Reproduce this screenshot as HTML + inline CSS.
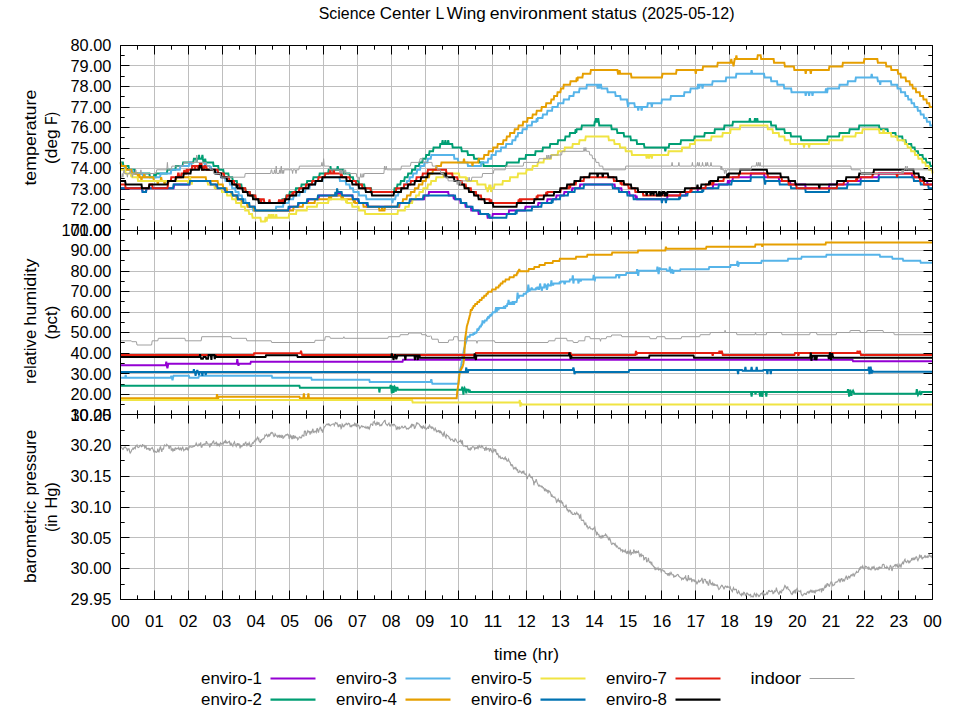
<!DOCTYPE html>
<html lang="en"><head><meta charset="utf-8"><title>Science Center L Wing environment status</title>
<style>html,body{margin:0;padding:0;background:#fff}svg{display:block}text{font-family:"Liberation Sans", "DejaVu Sans", sans-serif;font-size:16px;fill:#000}.g{stroke:#bebebe;stroke-width:1;fill:none}.k{stroke:#000;stroke-width:1;fill:none}.c{fill:none;stroke-linejoin:miter;stroke-miterlimit:3;stroke-linecap:butt}</style></head><body>
<svg width="960" height="720" viewBox="0 0 960 720">
<rect width="960" height="720" fill="#fff"/>
<path class="g" d="M120.5 65.5H932.5M120.5 86.5H932.5M120.5 107.5H932.5M120.5 127.5H932.5M120.5 148.5H932.5M120.5 168.5H932.5M120.5 189.5H932.5M120.5 209.5H932.5M154.5 45.5V230.5M188.5 45.5V230.5M222.5 45.5V230.5M255.5 45.5V230.5M289.5 45.5V230.5M323.5 45.5V230.5M357.5 45.5V230.5M391.5 45.5V230.5M425.5 45.5V230.5M458.5 45.5V230.5M492.5 45.5V230.5M526.5 45.5V230.5M560.5 45.5V230.5M594.5 45.5V230.5M628.5 45.5V230.5M661.5 45.5V230.5M695.5 45.5V230.5M729.5 45.5V230.5M763.5 45.5V230.5M797.5 45.5V230.5M831.5 45.5V230.5M864.5 45.5V230.5M898.5 45.5V230.5M120.5 250.5H932.5M120.5 271.5H932.5M120.5 291.5H932.5M120.5 312.5H932.5M120.5 332.5H932.5M120.5 353.5H932.5M120.5 373.5H932.5M120.5 394.5H932.5M154.5 230.5V414.5M188.5 230.5V414.5M222.5 230.5V414.5M255.5 230.5V414.5M289.5 230.5V414.5M323.5 230.5V414.5M357.5 230.5V414.5M391.5 230.5V414.5M425.5 230.5V414.5M458.5 230.5V414.5M492.5 230.5V414.5M526.5 230.5V414.5M560.5 230.5V414.5M594.5 230.5V414.5M628.5 230.5V414.5M661.5 230.5V414.5M695.5 230.5V414.5M729.5 230.5V414.5M763.5 230.5V414.5M797.5 230.5V414.5M831.5 230.5V414.5M864.5 230.5V414.5M898.5 230.5V414.5M120.5 445.5H932.5M120.5 476.5H932.5M120.5 507.5H932.5M120.5 537.5H932.5M120.5 568.5H932.5M154.5 414.5V599.5M188.5 414.5V599.5M222.5 414.5V599.5M255.5 414.5V599.5M289.5 414.5V599.5M323.5 414.5V599.5M357.5 414.5V599.5M391.5 414.5V599.5M425.5 414.5V599.5M458.5 414.5V599.5M492.5 414.5V599.5M526.5 414.5V599.5M560.5 414.5V599.5M594.5 414.5V599.5M628.5 414.5V599.5M661.5 414.5V599.5M695.5 414.5V599.5M729.5 414.5V599.5M763.5 414.5V599.5M797.5 414.5V599.5M831.5 414.5V599.5M864.5 414.5V599.5M898.5 414.5V599.5"/>
<path class="k" d="M120.5 45.5h9M932.5 45.5h-9M120.5 55.5h4.2M932.5 55.5h-4.2M120.5 65.5h9M932.5 65.5h-9M120.5 76.5h4.2M932.5 76.5h-4.2M120.5 86.5h9M932.5 86.5h-9M120.5 96.5h4.2M932.5 96.5h-4.2M120.5 107.5h9M932.5 107.5h-9M120.5 117.5h4.2M932.5 117.5h-4.2M120.5 127.5h9M932.5 127.5h-9M120.5 137.5h4.2M932.5 137.5h-4.2M120.5 148.5h9M932.5 148.5h-9M120.5 158.5h4.2M932.5 158.5h-4.2M120.5 168.5h9M932.5 168.5h-9M120.5 178.5h4.2M932.5 178.5h-4.2M120.5 189.5h9M932.5 189.5h-9M120.5 199.5h4.2M932.5 199.5h-4.2M120.5 209.5h9M932.5 209.5h-9M120.5 219.5h4.2M932.5 219.5h-4.2M120.5 230.5h9M932.5 230.5h-9M120.5 45.5v9.0M120.5 230.5v-9.0M137.5 45.5v4.2M137.5 230.5v-4.2M154.5 45.5v9.0M154.5 230.5v-9.0M171.5 45.5v4.2M171.5 230.5v-4.2M188.5 45.5v9.0M188.5 230.5v-9.0M205.5 45.5v4.2M205.5 230.5v-4.2M222.5 45.5v9.0M222.5 230.5v-9.0M239.5 45.5v4.2M239.5 230.5v-4.2M255.5 45.5v9.0M255.5 230.5v-9.0M272.5 45.5v4.2M272.5 230.5v-4.2M289.5 45.5v9.0M289.5 230.5v-9.0M306.5 45.5v4.2M306.5 230.5v-4.2M323.5 45.5v9.0M323.5 230.5v-9.0M340.5 45.5v4.2M340.5 230.5v-4.2M357.5 45.5v9.0M357.5 230.5v-9.0M374.5 45.5v4.2M374.5 230.5v-4.2M391.5 45.5v9.0M391.5 230.5v-9.0M408.5 45.5v4.2M408.5 230.5v-4.2M425.5 45.5v9.0M425.5 230.5v-9.0M442.5 45.5v4.2M442.5 230.5v-4.2M458.5 45.5v9.0M458.5 230.5v-9.0M475.5 45.5v4.2M475.5 230.5v-4.2M492.5 45.5v9.0M492.5 230.5v-9.0M509.5 45.5v4.2M509.5 230.5v-4.2M526.5 45.5v9.0M526.5 230.5v-9.0M543.5 45.5v4.2M543.5 230.5v-4.2M560.5 45.5v9.0M560.5 230.5v-9.0M577.5 45.5v4.2M577.5 230.5v-4.2M594.5 45.5v9.0M594.5 230.5v-9.0M611.5 45.5v4.2M611.5 230.5v-4.2M628.5 45.5v9.0M628.5 230.5v-9.0M645.5 45.5v4.2M645.5 230.5v-4.2M661.5 45.5v9.0M661.5 230.5v-9.0M678.5 45.5v4.2M678.5 230.5v-4.2M695.5 45.5v9.0M695.5 230.5v-9.0M712.5 45.5v4.2M712.5 230.5v-4.2M729.5 45.5v9.0M729.5 230.5v-9.0M746.5 45.5v4.2M746.5 230.5v-4.2M763.5 45.5v9.0M763.5 230.5v-9.0M780.5 45.5v4.2M780.5 230.5v-4.2M797.5 45.5v9.0M797.5 230.5v-9.0M814.5 45.5v4.2M814.5 230.5v-4.2M831.5 45.5v9.0M831.5 230.5v-9.0M848.5 45.5v4.2M848.5 230.5v-4.2M864.5 45.5v9.0M864.5 230.5v-9.0M881.5 45.5v4.2M881.5 230.5v-4.2M898.5 45.5v9.0M898.5 230.5v-9.0M915.5 45.5v4.2M915.5 230.5v-4.2M932.5 45.5v9.0M932.5 230.5v-9.0M120.5 230.5h9M932.5 230.5h-9M120.5 240.5h4.2M932.5 240.5h-4.2M120.5 250.5h9M932.5 250.5h-9M120.5 260.5h4.2M932.5 260.5h-4.2M120.5 271.5h9M932.5 271.5h-9M120.5 281.5h4.2M932.5 281.5h-4.2M120.5 291.5h9M932.5 291.5h-9M120.5 301.5h4.2M932.5 301.5h-4.2M120.5 312.5h9M932.5 312.5h-9M120.5 322.5h4.2M932.5 322.5h-4.2M120.5 332.5h9M932.5 332.5h-9M120.5 342.5h4.2M932.5 342.5h-4.2M120.5 353.5h9M932.5 353.5h-9M120.5 363.5h4.2M932.5 363.5h-4.2M120.5 373.5h9M932.5 373.5h-9M120.5 384.5h4.2M932.5 384.5h-4.2M120.5 394.5h9M932.5 394.5h-9M120.5 404.5h4.2M932.5 404.5h-4.2M120.5 414.5h9M932.5 414.5h-9M120.5 230.5v9.0M120.5 414.5v-9.0M137.5 230.5v4.2M137.5 414.5v-4.2M154.5 230.5v9.0M154.5 414.5v-9.0M171.5 230.5v4.2M171.5 414.5v-4.2M188.5 230.5v9.0M188.5 414.5v-9.0M205.5 230.5v4.2M205.5 414.5v-4.2M222.5 230.5v9.0M222.5 414.5v-9.0M239.5 230.5v4.2M239.5 414.5v-4.2M255.5 230.5v9.0M255.5 414.5v-9.0M272.5 230.5v4.2M272.5 414.5v-4.2M289.5 230.5v9.0M289.5 414.5v-9.0M306.5 230.5v4.2M306.5 414.5v-4.2M323.5 230.5v9.0M323.5 414.5v-9.0M340.5 230.5v4.2M340.5 414.5v-4.2M357.5 230.5v9.0M357.5 414.5v-9.0M374.5 230.5v4.2M374.5 414.5v-4.2M391.5 230.5v9.0M391.5 414.5v-9.0M408.5 230.5v4.2M408.5 414.5v-4.2M425.5 230.5v9.0M425.5 414.5v-9.0M442.5 230.5v4.2M442.5 414.5v-4.2M458.5 230.5v9.0M458.5 414.5v-9.0M475.5 230.5v4.2M475.5 414.5v-4.2M492.5 230.5v9.0M492.5 414.5v-9.0M509.5 230.5v4.2M509.5 414.5v-4.2M526.5 230.5v9.0M526.5 414.5v-9.0M543.5 230.5v4.2M543.5 414.5v-4.2M560.5 230.5v9.0M560.5 414.5v-9.0M577.5 230.5v4.2M577.5 414.5v-4.2M594.5 230.5v9.0M594.5 414.5v-9.0M611.5 230.5v4.2M611.5 414.5v-4.2M628.5 230.5v9.0M628.5 414.5v-9.0M645.5 230.5v4.2M645.5 414.5v-4.2M661.5 230.5v9.0M661.5 414.5v-9.0M678.5 230.5v4.2M678.5 414.5v-4.2M695.5 230.5v9.0M695.5 414.5v-9.0M712.5 230.5v4.2M712.5 414.5v-4.2M729.5 230.5v9.0M729.5 414.5v-9.0M746.5 230.5v4.2M746.5 414.5v-4.2M763.5 230.5v9.0M763.5 414.5v-9.0M780.5 230.5v4.2M780.5 414.5v-4.2M797.5 230.5v9.0M797.5 414.5v-9.0M814.5 230.5v4.2M814.5 414.5v-4.2M831.5 230.5v9.0M831.5 414.5v-9.0M848.5 230.5v4.2M848.5 414.5v-4.2M864.5 230.5v9.0M864.5 414.5v-9.0M881.5 230.5v4.2M881.5 414.5v-4.2M898.5 230.5v9.0M898.5 414.5v-9.0M915.5 230.5v4.2M915.5 414.5v-4.2M932.5 230.5v9.0M932.5 414.5v-9.0M120.5 414.5h9M932.5 414.5h-9M120.5 430.5h4.2M932.5 430.5h-4.2M120.5 445.5h9M932.5 445.5h-9M120.5 460.5h4.2M932.5 460.5h-4.2M120.5 476.5h9M932.5 476.5h-9M120.5 491.5h4.2M932.5 491.5h-4.2M120.5 507.5h9M932.5 507.5h-9M120.5 522.5h4.2M932.5 522.5h-4.2M120.5 537.5h9M932.5 537.5h-9M120.5 553.5h4.2M932.5 553.5h-4.2M120.5 568.5h9M932.5 568.5h-9M120.5 584.5h4.2M932.5 584.5h-4.2M120.5 599.5h9M932.5 599.5h-9M120.5 414.5v9.0M120.5 599.5v-9.0M137.5 414.5v4.2M137.5 599.5v-4.2M154.5 414.5v9.0M154.5 599.5v-9.0M171.5 414.5v4.2M171.5 599.5v-4.2M188.5 414.5v9.0M188.5 599.5v-9.0M205.5 414.5v4.2M205.5 599.5v-4.2M222.5 414.5v9.0M222.5 599.5v-9.0M239.5 414.5v4.2M239.5 599.5v-4.2M255.5 414.5v9.0M255.5 599.5v-9.0M272.5 414.5v4.2M272.5 599.5v-4.2M289.5 414.5v9.0M289.5 599.5v-9.0M306.5 414.5v4.2M306.5 599.5v-4.2M323.5 414.5v9.0M323.5 599.5v-9.0M340.5 414.5v4.2M340.5 599.5v-4.2M357.5 414.5v9.0M357.5 599.5v-9.0M374.5 414.5v4.2M374.5 599.5v-4.2M391.5 414.5v9.0M391.5 599.5v-9.0M408.5 414.5v4.2M408.5 599.5v-4.2M425.5 414.5v9.0M425.5 599.5v-9.0M442.5 414.5v4.2M442.5 599.5v-4.2M458.5 414.5v9.0M458.5 599.5v-9.0M475.5 414.5v4.2M475.5 599.5v-4.2M492.5 414.5v9.0M492.5 599.5v-9.0M509.5 414.5v4.2M509.5 599.5v-4.2M526.5 414.5v9.0M526.5 599.5v-9.0M543.5 414.5v4.2M543.5 599.5v-4.2M560.5 414.5v9.0M560.5 599.5v-9.0M577.5 414.5v4.2M577.5 599.5v-4.2M594.5 414.5v9.0M594.5 599.5v-9.0M611.5 414.5v4.2M611.5 599.5v-4.2M628.5 414.5v9.0M628.5 599.5v-9.0M645.5 414.5v4.2M645.5 599.5v-4.2M661.5 414.5v9.0M661.5 599.5v-9.0M678.5 414.5v4.2M678.5 599.5v-4.2M695.5 414.5v9.0M695.5 599.5v-9.0M712.5 414.5v4.2M712.5 599.5v-4.2M729.5 414.5v9.0M729.5 599.5v-9.0M746.5 414.5v4.2M746.5 599.5v-4.2M763.5 414.5v9.0M763.5 599.5v-9.0M780.5 414.5v4.2M780.5 599.5v-4.2M797.5 414.5v9.0M797.5 599.5v-9.0M814.5 414.5v4.2M814.5 599.5v-4.2M831.5 414.5v9.0M831.5 599.5v-9.0M848.5 414.5v4.2M848.5 599.5v-4.2M864.5 414.5v9.0M864.5 599.5v-9.0M881.5 414.5v4.2M881.5 599.5v-4.2M898.5 414.5v9.0M898.5 599.5v-9.0M915.5 414.5v4.2M915.5 599.5v-4.2M932.5 414.5v9.0M932.5 599.5v-9.0"/>
<g id="temperature">
<path class="c" d="M120.6 188.3L142.0 188.3L142.6 192.0L146.0 192.0L146.5 188.3L173.6 188.3L174.2 184.6L189.4 184.6L190.0 180.9L209.7 180.9L210.3 184.6L215.3 184.6L215.9 188.3L224.4 188.3L224.9 192.0L231.7 192.0L232.2 195.6L237.3 195.6L237.9 199.3L242.4 199.3L243.0 203.0L248.0 203.0L248.6 206.7L254.2 206.7L254.8 210.4L289.2 210.4L289.8 206.7L298.2 206.7L298.8 203.0L307.8 203.0L308.4 199.3L318.5 199.3L319.1 195.6L337.7 195.6L338.3 192.0L340.0 192.0L340.5 195.6L352.4 195.6L352.9 199.3L358.0 199.3L358.6 203.0L366.5 203.0L367.0 206.7L399.2 206.7L399.7 203.0L411.0 203.0L411.6 199.3L424.0 199.3L424.5 195.6L428.5 195.6L429.0 192.0L448.2 192.0L448.8 195.6L453.3 195.6L453.9 199.3L454.4 195.6L455.0 199.3L460.1 199.3L460.6 203.0L465.1 203.0L465.7 206.7L470.8 206.7L471.3 210.4L478.1 210.4L478.7 214.1L487.1 214.1L487.7 217.8L492.2 217.8L492.8 214.1L508.6 214.1L509.1 210.4L524.9 210.4L525.5 206.7L537.9 206.7L538.4 203.0L546.9 203.0L547.5 199.3L555.9 199.3L556.5 195.6L563.8 195.6L564.4 192.0L571.7 192.0L572.3 188.3L579.6 188.3L580.2 184.6L614.6 184.6L615.1 188.3L621.3 188.3L621.9 192.0L629.2 192.0L629.8 195.6L635.4 195.6L636.0 199.3L636.6 195.6L637.1 199.3L667.0 199.3L667.6 195.6L685.6 195.6L686.2 192.0L697.5 192.0L698.0 188.3L712.7 188.3L713.2 184.6L727.3 184.6L727.9 180.9L728.5 180.9L729.0 184.6L729.6 180.9L732.4 180.9L733.0 177.2L750.5 177.2L751.0 173.5L764.0 173.5L764.6 177.2L778.7 177.2L779.2 180.9L789.9 180.9L790.5 184.6L805.2 184.6L805.7 188.3L828.8 188.3L829.4 184.6L847.5 184.6L848.0 180.9L860.4 180.9L861.0 177.2L878.5 177.2L879.0 173.5L911.7 173.5L912.3 177.2L920.2 177.2L920.8 180.9L927.0 180.9L927.5 184.6L932.6 184.6" stroke="#9400d3" stroke-width="2"/>
<path class="c" d="M120.6 162.4L122.9 162.4L123.4 166.1L128.5 166.1L129.1 169.8L134.7 169.8L135.3 173.5L149.4 173.5L149.9 177.2L153.9 177.2L154.4 173.5L155.0 177.2L155.6 177.2L156.1 173.5L166.8 173.5L167.4 169.8L175.3 169.8L175.9 166.1L182.6 166.1L183.2 162.4L193.3 162.4L193.9 158.7L194.5 158.7L196.2 158.7L196.7 162.4L197.3 158.7L198.4 158.7L199.0 155.0L199.5 158.7L201.8 158.7L202.4 155.0L202.9 158.7L203.5 162.4L204.6 162.4L205.2 158.7L205.7 162.4L213.1 162.4L213.6 166.1L218.2 166.1L218.7 169.8L223.2 169.8L223.8 173.5L228.3 173.5L228.9 177.2L232.2 177.2L232.8 180.9L236.8 180.9L237.3 184.6L241.3 184.6L241.8 188.3L245.2 188.3L245.8 192.0L249.7 192.0L250.3 195.6L254.8 195.6L255.4 199.3L259.3 199.3L259.9 203.0L281.9 203.0L282.4 199.3L285.8 199.3L286.4 195.6L289.2 195.6L289.8 192.0L295.4 192.0L296.0 188.3L301.0 188.3L301.6 184.6L306.7 184.6L307.2 180.9L312.9 180.9L313.5 177.2L319.1 177.2L319.7 173.5L328.1 173.5L328.7 169.8L329.8 169.8L330.4 166.1L330.9 169.8L333.2 169.8L333.8 173.5L334.3 169.8L337.1 169.8L337.7 166.1L338.3 169.8L343.3 169.8L343.9 173.5L349.5 173.5L350.1 177.2L352.9 177.2L353.5 180.9L358.6 180.9L359.1 184.6L364.2 184.6L364.8 188.3L371.0 188.3L371.5 192.0L394.1 192.0L394.6 188.3L396.9 188.3L397.5 184.6L400.3 184.6L400.9 180.9L404.2 180.9L404.8 177.2L407.6 177.2L408.2 173.5L411.6 173.5L412.1 169.8L415.0 169.8L415.5 166.1L418.9 166.1L419.5 162.4L422.3 162.4L422.8 158.7L425.7 158.7L426.2 155.0L429.0 155.0L429.6 151.3L433.0 151.3L433.6 147.6L439.8 147.6L440.3 143.9L442.0 143.9L442.6 140.2L443.1 143.9L444.8 143.9L445.4 140.2L446.0 143.9L447.7 143.9L448.2 140.2L448.8 143.9L452.2 143.9L452.7 147.6L461.2 147.6L461.8 151.3L467.4 151.3L468.0 155.0L473.6 155.0L474.2 158.7L478.7 158.7L479.2 162.4L483.2 162.4L483.7 166.1L506.3 166.1L506.9 162.4L518.7 162.4L519.3 158.7L525.5 158.7L526.0 155.0L535.1 155.0L535.6 151.3L542.4 151.3L543.0 147.6L549.7 147.6L550.3 143.9L557.6 143.9L558.2 140.2L564.9 140.2L565.5 136.6L569.5 136.6L570.0 132.9L575.1 132.9L575.7 129.2L576.2 132.9L576.8 129.2L581.3 129.2L581.9 125.5L594.3 125.5L594.8 121.8L595.4 121.8L596.0 118.1L596.5 121.8L597.6 121.8L598.2 118.1L598.8 121.8L599.3 125.5L611.2 125.5L611.7 129.2L616.8 129.2L617.4 132.9L623.6 132.9L624.2 136.6L630.4 136.6L630.9 140.2L636.6 140.2L637.1 143.9L643.9 143.9L644.5 147.6L664.8 147.6L665.3 151.3L665.9 147.6L668.7 147.6L669.3 143.9L680.5 143.9L681.1 140.2L694.1 140.2L694.6 136.6L704.2 136.6L704.8 132.9L714.4 132.9L714.9 129.2L724.0 129.2L724.5 125.5L732.4 125.5L733.0 121.8L749.3 121.8L749.9 118.1L750.5 121.8L754.4 121.8L755.0 118.1L755.5 121.8L756.7 121.8L757.2 118.1L757.8 121.8L770.8 121.8L771.3 125.5L775.8 125.5L776.4 129.2L784.3 129.2L784.9 132.9L790.5 132.9L791.1 136.6L800.7 136.6L801.2 140.2L827.2 140.2L827.7 136.6L839.0 136.6L839.6 132.9L849.1 132.9L849.7 129.2L858.7 129.2L859.3 125.5L879.0 125.5L879.6 129.2L887.5 129.2L888.1 132.9L895.4 132.9L895.9 136.6L902.2 136.6L902.7 140.2L905.5 140.2L906.1 143.9L911.2 143.9L911.7 147.6L914.6 147.6L915.1 151.3L917.9 151.3L918.5 155.0L922.5 155.0L923.0 158.7L925.8 158.7L926.4 162.4L929.8 162.4L930.3 166.1L932.6 166.1" stroke="#009e73" stroke-width="2"/>
<path class="c" d="M120.6 162.4L121.2 166.1L124.5 166.1L125.1 169.8L131.9 169.8L132.4 173.5L133.0 169.8L133.6 173.5L142.6 173.5L143.2 177.2L143.7 177.2L144.3 173.5L144.8 177.2L160.1 177.2L160.6 173.5L170.8 173.5L171.3 169.8L179.8 169.8L180.4 166.1L188.8 166.1L189.4 162.4L191.1 162.4L191.7 166.1L204.6 166.1L205.2 162.4L205.7 166.1L209.7 166.1L210.3 169.8L210.8 166.1L211.4 169.8L215.9 169.8L216.5 173.5L220.4 173.5L221.0 177.2L224.9 177.2L225.5 180.9L229.4 180.9L230.0 184.6L231.7 184.6L232.2 188.3L235.1 188.3L235.6 192.0L238.5 192.0L239.0 195.6L241.8 195.6L242.4 199.3L245.2 199.3L245.8 203.0L248.6 203.0L249.2 206.7L252.6 206.7L253.1 210.4L275.7 210.4L276.2 206.7L283.0 206.7L283.6 203.0L288.6 203.0L289.2 199.3L293.1 199.3L293.7 195.6L299.4 195.6L299.9 192.0L305.0 192.0L305.6 188.3L309.5 188.3L310.1 184.6L315.1 184.6L315.7 180.9L322.5 180.9L323.0 177.2L339.4 177.2L340.0 180.9L345.6 180.9L346.2 184.6L349.5 184.6L350.1 188.3L352.9 188.3L353.5 192.0L358.6 192.0L359.1 195.6L365.9 195.6L366.5 199.3L391.8 199.3L392.4 203.0L393.0 199.3L395.2 199.3L395.8 195.6L398.0 195.6L398.6 192.0L400.9 192.0L401.4 188.3L403.7 188.3L404.2 184.6L406.5 184.6L407.1 180.9L409.3 180.9L409.9 177.2L412.7 177.2L413.3 173.5L416.6 173.5L417.2 169.8L420.0 169.8L420.6 166.1L424.0 166.1L424.5 162.4L427.4 162.4L427.9 158.7L430.7 158.7L431.3 155.0L453.9 155.0L454.4 158.7L457.8 158.7L458.4 162.4L467.4 162.4L468.0 166.1L480.9 166.1L481.5 162.4L487.7 162.4L488.3 158.7L491.1 158.7L491.6 155.0L495.6 155.0L496.1 151.3L500.7 151.3L501.2 147.6L505.7 147.6L506.3 143.9L511.9 143.9L512.5 140.2L515.3 140.2L515.9 136.6L517.6 136.6L518.1 132.9L522.1 132.9L522.7 129.2L526.6 129.2L527.2 125.5L531.7 125.5L532.2 121.8L536.2 121.8L536.8 118.1L537.3 121.8L537.9 118.1L542.4 118.1L543.0 114.4L546.9 114.4L547.5 110.7L552.0 110.7L552.5 107.0L557.6 107.0L558.2 103.3L563.3 103.3L563.8 99.6L568.9 99.6L569.5 95.9L573.4 95.9L574.0 92.2L579.0 92.2L579.6 88.5L586.4 88.5L586.9 84.8L597.1 84.8L597.6 88.5L598.2 84.8L598.8 84.8L599.3 88.5L599.9 84.8L601.0 84.8L601.6 88.5L607.2 88.5L607.8 92.2L615.1 92.2L615.7 95.9L620.2 95.9L620.8 99.6L627.0 99.6L627.5 103.3L628.1 107.0L628.7 103.3L634.3 103.3L634.9 107.0L637.7 107.0L638.2 110.7L638.8 107.0L641.1 107.0L641.6 110.7L642.2 107.0L647.3 107.0L647.8 103.3L651.2 103.3L651.8 107.0L652.3 103.3L661.4 103.3L661.9 99.6L670.4 99.6L671.0 95.9L683.9 95.9L684.5 92.2L690.1 92.2L690.7 88.5L697.5 88.5L698.0 84.8L698.6 84.8L699.2 88.5L699.7 84.8L702.0 84.8L702.5 88.5L703.1 84.8L712.1 84.8L712.7 81.2L725.7 81.2L726.2 77.5L735.8 77.5L736.4 73.8L751.0 73.8L751.6 70.1L752.2 73.8L764.0 73.8L764.6 77.5L770.8 77.5L771.3 81.2L777.0 81.2L777.5 84.8L783.7 84.8L784.3 88.5L791.1 88.5L791.6 92.2L805.2 92.2L805.7 95.9L806.3 92.2L808.5 92.2L809.1 95.9L809.7 92.2L811.9 92.2L812.5 95.9L813.1 92.2L825.5 92.2L826.0 88.5L826.6 92.2L827.2 92.2L827.7 88.5L839.0 88.5L839.6 84.8L847.5 84.8L848.0 81.2L855.3 81.2L855.9 77.5L871.1 77.5L871.7 73.8L872.3 77.5L877.3 77.5L877.9 81.2L879.6 81.2L880.2 84.8L880.7 81.2L890.9 81.2L891.4 84.8L897.1 84.8L897.6 88.5L900.5 88.5L901.0 92.2L905.0 92.2L905.5 95.9L907.8 95.9L908.4 99.6L911.2 99.6L911.7 103.3L914.0 103.3L914.6 107.0L917.4 107.0L917.9 110.7L920.2 110.7L920.8 114.4L923.6 114.4L924.1 118.1L926.4 118.1L927.0 121.8L929.8 121.8L930.3 125.5L932.6 125.5" stroke="#56b4e9" stroke-width="2"/>
<path class="c" d="M120.6 162.4L121.2 166.1L125.7 166.1L126.2 169.8L131.3 169.8L131.9 173.5L137.5 173.5L138.1 177.2L138.6 177.2L139.2 173.5L139.8 177.2L140.9 177.2L141.5 180.9L142.0 177.2L143.7 177.2L144.3 173.5L144.8 177.2L153.3 177.2L153.9 180.9L157.3 180.9L157.8 184.6L158.4 180.9L160.6 180.9L161.2 177.2L161.8 180.9L164.0 180.9L164.6 184.6L165.1 180.9L175.9 180.9L176.4 177.2L205.7 177.2L206.3 180.9L217.6 180.9L218.2 184.6L222.7 184.6L223.2 188.3L226.6 188.3L227.2 192.0L231.1 192.0L231.7 195.6L236.2 195.6L236.8 199.3L241.3 199.3L241.8 203.0L246.9 203.0L247.5 206.7L253.7 206.7L254.2 210.4L293.1 210.4L293.7 206.7L302.7 206.7L303.3 203.0L314.6 203.0L315.1 199.3L328.7 199.3L329.2 195.6L329.8 199.3L330.9 199.3L331.5 195.6L341.1 195.6L341.6 199.3L342.2 199.3L342.8 195.6L343.3 199.3L353.5 199.3L354.0 203.0L354.6 199.3L355.2 203.0L363.1 203.0L363.6 206.7L378.9 206.7L379.4 210.4L381.7 210.4L382.2 206.7L382.8 210.4L384.5 210.4L385.1 206.7L398.6 206.7L399.2 203.0L402.5 203.0L403.1 199.3L406.5 199.3L407.1 195.6L410.4 195.6L411.0 192.0L414.4 192.0L415.0 188.3L418.3 188.3L418.9 184.6L422.3 184.6L422.8 180.9L425.7 180.9L426.2 177.2L429.0 177.2L429.6 173.5L432.4 173.5L433.0 169.8L435.8 169.8L436.4 166.1L440.9 166.1L441.5 162.4L463.4 162.4L464.0 158.7L464.6 162.4L471.9 162.4L472.5 166.1L473.0 162.4L478.1 162.4L478.7 158.7L483.7 158.7L484.3 155.0L488.3 155.0L488.8 151.3L492.8 151.3L493.3 147.6L497.3 147.6L497.8 143.9L502.9 143.9L503.5 140.2L506.3 140.2L506.9 136.6L509.7 136.6L510.2 132.9L514.2 132.9L514.8 129.2L518.1 129.2L518.7 125.5L522.7 125.5L523.2 121.8L527.2 121.8L527.7 118.1L532.2 118.1L532.8 114.4L536.2 114.4L536.8 110.7L541.3 110.7L541.8 107.0L545.8 107.0L546.3 103.3L550.8 103.3L551.4 99.6L553.7 99.6L554.2 95.9L557.1 95.9L557.6 92.2L560.4 92.2L561.0 88.5L563.3 88.5L563.8 84.8L570.0 84.8L570.6 81.2L576.2 81.2L576.8 77.5L577.4 81.2L577.9 77.5L582.4 77.5L583.0 73.8L590.3 73.8L590.9 70.1L617.4 70.1L618.0 73.8L619.1 73.8L619.6 70.1L620.2 73.8L630.9 73.8L631.5 77.5L661.9 77.5L662.5 73.8L676.0 73.8L676.6 70.1L695.2 70.1L695.8 73.8L696.3 70.1L702.5 70.1L703.1 66.4L717.2 66.4L717.8 62.7L730.7 62.7L731.3 59.0L731.9 62.7L733.0 62.7L733.5 66.4L734.1 62.7L734.7 59.0L735.8 59.0L736.4 55.3L736.9 59.0L757.2 59.0L757.8 55.3L760.6 55.3L761.2 59.0L773.6 59.0L774.1 62.7L784.3 62.7L784.9 66.4L793.9 66.4L794.4 70.1L805.2 70.1L805.7 73.8L806.3 70.1L810.2 70.1L810.8 73.8L811.4 70.1L828.8 70.1L829.4 66.4L842.4 66.4L842.9 62.7L863.8 62.7L864.4 59.0L877.3 59.0L877.9 62.7L885.8 62.7L886.4 66.4L890.9 66.4L891.4 70.1L897.6 70.1L898.2 73.8L900.5 73.8L901.0 77.5L905.5 77.5L906.1 81.2L909.5 81.2L910.0 84.8L912.3 84.8L912.9 88.5L915.7 88.5L916.2 92.2L919.6 92.2L920.2 95.9L923.0 95.9L923.6 99.6L926.4 99.6L927.0 103.3L929.2 103.3L929.8 107.0L932.6 107.0" stroke="#e69f00" stroke-width="2"/>
<path class="c" d="M120.6 169.8L125.1 169.8L125.7 173.5L130.8 173.5L131.3 177.2L131.9 173.5L132.4 177.2L137.5 177.2L138.1 180.9L187.7 180.9L188.3 184.6L188.8 180.9L189.4 180.9L190.0 177.2L190.5 180.9L191.1 180.9L191.7 184.6L192.2 180.9L207.4 180.9L208.0 184.6L214.2 184.6L214.8 188.3L221.5 188.3L222.1 192.0L226.6 192.0L227.2 195.6L231.7 195.6L232.2 199.3L235.6 199.3L236.2 203.0L240.7 203.0L241.3 206.7L244.7 206.7L245.2 210.4L248.6 210.4L249.2 214.1L252.0 214.1L252.6 217.8L260.4 217.8L261.0 221.5L265.0 221.5L265.5 217.8L266.1 217.8L266.6 221.5L267.2 217.8L268.3 217.8L268.9 214.1L269.5 217.8L270.6 217.8L271.2 214.1L271.7 217.8L272.9 217.8L273.4 214.1L274.0 217.8L275.7 217.8L276.2 214.1L276.8 217.8L288.6 217.8L289.2 214.1L296.0 214.1L296.5 210.4L306.7 210.4L307.2 206.7L316.8 206.7L317.4 203.0L328.1 203.0L328.7 199.3L345.6 199.3L346.2 203.0L346.7 199.3L347.3 203.0L351.8 203.0L352.4 206.7L358.6 206.7L359.1 210.4L364.8 210.4L365.3 214.1L397.5 214.1L398.0 210.4L404.8 210.4L405.4 206.7L408.7 206.7L409.3 203.0L412.1 203.0L412.7 199.3L415.5 199.3L416.1 195.6L418.9 195.6L419.5 192.0L422.8 192.0L423.4 188.3L427.4 188.3L427.9 184.6L430.7 184.6L431.3 180.9L435.8 180.9L436.4 177.2L443.1 177.2L443.7 173.5L458.9 173.5L459.5 177.2L465.7 177.2L466.3 180.9L466.8 177.2L467.4 180.9L477.0 180.9L477.5 184.6L485.4 184.6L486.0 188.3L487.1 188.3L487.7 192.0L488.3 188.3L488.8 188.3L489.4 184.6L489.9 188.3L490.5 184.6L491.1 192.0L491.6 188.3L493.9 188.3L494.5 184.6L502.4 184.6L502.9 180.9L509.7 180.9L510.2 177.2L517.6 177.2L518.1 173.5L526.0 173.5L526.6 169.8L532.2 169.8L532.8 166.1L537.3 166.1L537.9 162.4L543.5 162.4L544.1 158.7L550.8 158.7L551.4 155.0L557.6 155.0L558.2 151.3L564.4 151.3L564.9 147.6L572.3 147.6L572.8 143.9L579.0 143.9L579.6 140.2L585.2 140.2L585.8 136.6L608.4 136.6L608.9 140.2L614.0 140.2L614.6 143.9L619.6 143.9L620.2 147.6L625.3 147.6L625.8 151.3L631.5 151.3L632.0 155.0L646.1 155.0L646.7 158.7L647.3 155.0L648.4 155.0L649.0 158.7L649.5 155.0L651.2 155.0L651.8 158.7L652.3 155.0L668.1 155.0L668.7 151.3L681.7 151.3L682.2 147.6L689.6 147.6L690.1 143.9L694.6 143.9L695.2 140.2L711.0 140.2L711.6 136.6L722.3 136.6L722.8 132.9L730.2 132.9L730.7 129.2L739.8 129.2L740.3 125.5L767.4 125.5L767.9 129.2L772.5 129.2L773.0 132.9L778.7 132.9L779.2 136.6L784.3 136.6L784.9 140.2L789.9 140.2L790.5 143.9L803.5 143.9L804.0 147.6L804.6 143.9L808.5 143.9L809.1 147.6L809.7 143.9L828.8 143.9L829.4 140.2L842.4 140.2L842.9 136.6L855.3 136.6L855.9 132.9L862.1 132.9L862.7 129.2L879.0 129.2L879.6 132.9L883.0 132.9L883.5 129.2L884.1 132.9L890.9 132.9L891.4 136.6L897.1 136.6L897.6 140.2L904.4 140.2L905.0 143.9L907.2 143.9L907.8 147.6L910.6 147.6L911.2 151.3L914.6 151.3L915.1 155.0L917.9 155.0L918.5 158.7L921.9 158.7L922.5 162.4L925.3 162.4L925.8 166.1L928.7 166.1L929.2 169.8L932.0 169.8L932.6 173.5L932.6 173.5" stroke="#f0e442" stroke-width="2"/>
<path class="c" d="M120.6 188.3L142.0 188.3L142.6 192.0L146.0 192.0L146.5 188.3L173.0 188.3L173.6 184.6L189.4 184.6L190.0 180.9L210.3 180.9L210.8 184.6L217.0 184.6L217.6 188.3L224.9 188.3L225.5 192.0L232.2 192.0L232.8 195.6L237.3 195.6L237.9 199.3L243.0 199.3L243.5 203.0L249.2 203.0L249.7 206.7L254.8 206.7L255.4 210.4L288.1 210.4L288.6 206.7L297.7 206.7L298.2 203.0L306.7 203.0L307.2 199.3L317.4 199.3L318.0 195.6L334.9 195.6L335.4 192.0L336.0 195.6L336.6 195.6L337.1 188.3L337.7 192.0L341.6 192.0L342.2 195.6L352.4 195.6L352.9 199.3L358.6 199.3L359.1 203.0L367.6 203.0L368.1 206.7L397.5 206.7L398.0 203.0L409.3 203.0L409.9 199.3L422.8 199.3L423.4 195.6L455.0 195.6L455.6 199.3L460.6 199.3L461.2 203.0L466.3 203.0L466.8 206.7L472.5 206.7L473.0 210.4L479.8 210.4L480.4 214.1L488.3 214.1L488.8 217.8L489.4 214.1L489.9 217.8L506.3 217.8L506.9 214.1L515.3 214.1L515.9 210.4L516.5 214.1L517.0 210.4L531.7 210.4L532.2 206.7L541.3 206.7L541.8 203.0L551.4 203.0L552.0 199.3L552.5 203.0L553.1 199.3L559.9 199.3L560.4 195.6L567.8 195.6L568.3 192.0L574.5 192.0L575.1 188.3L583.6 188.3L584.1 184.6L612.3 184.6L612.9 188.3L618.5 188.3L619.1 192.0L627.0 192.0L627.5 195.6L633.2 195.6L633.7 199.3L661.4 199.3L661.9 203.0L662.5 199.3L665.3 199.3L665.9 203.0L666.4 199.3L678.9 199.3L679.4 195.6L680.0 199.3L680.5 195.6L687.3 195.6L687.9 192.0L702.0 192.0L702.5 188.3L703.1 192.0L703.7 188.3L718.3 188.3L718.9 184.6L731.3 184.6L731.9 180.9L750.5 180.9L751.0 177.2L764.0 177.2L764.6 180.9L765.1 184.6L765.7 180.9L779.2 180.9L779.8 184.6L790.5 184.6L791.1 188.3L805.2 188.3L805.7 192.0L828.8 192.0L829.4 188.3L846.9 188.3L847.5 184.6L860.4 184.6L861.0 180.9L878.5 180.9L879.0 177.2L913.4 177.2L914.0 180.9L920.2 180.9L920.8 184.6L928.1 184.6L928.7 188.3L932.6 188.3" stroke="#0072b2" stroke-width="2"/>
<path class="c" d="M120.6 184.6L125.1 184.6L125.7 188.3L148.8 188.3L149.4 184.6L152.2 184.6L152.7 188.3L167.4 188.3L168.0 184.6L168.5 180.9L170.8 180.9L171.3 177.2L177.6 177.2L178.1 173.5L178.7 173.5L179.2 177.2L180.9 177.2L181.5 173.5L183.8 173.5L184.3 169.8L184.9 173.5L186.0 173.5L186.6 169.8L187.1 169.8L187.7 173.5L188.3 169.8L191.7 169.8L192.2 166.1L194.5 166.1L195.0 169.8L195.6 166.1L197.9 166.1L198.4 169.8L199.0 166.1L199.5 166.1L200.1 162.4L200.7 166.1L201.2 162.4L201.8 166.1L202.4 169.8L202.9 169.8L203.5 166.1L204.1 169.8L204.6 166.1L206.3 166.1L206.9 169.8L217.6 169.8L218.2 173.5L223.8 173.5L224.4 177.2L228.9 177.2L229.4 180.9L233.9 180.9L234.5 184.6L239.6 184.6L240.1 188.3L245.2 188.3L245.8 192.0L249.7 192.0L250.3 195.6L255.4 195.6L255.9 199.3L260.4 199.3L261.0 203.0L261.6 199.3L263.8 199.3L264.4 203.0L268.9 203.0L269.5 199.3L270.0 203.0L278.5 203.0L279.1 199.3L279.6 203.0L280.7 203.0L281.3 199.3L281.9 203.0L282.4 203.0L283.0 199.3L283.6 203.0L284.1 199.3L286.4 199.3L286.9 195.6L292.0 195.6L292.6 192.0L293.1 195.6L293.7 192.0L298.8 192.0L299.4 188.3L305.6 188.3L306.1 184.6L311.8 184.6L312.3 180.9L318.0 180.9L318.5 177.2L324.7 177.2L325.3 173.5L329.8 173.5L330.4 169.8L330.9 173.5L333.2 173.5L333.8 169.8L334.3 173.5L340.5 173.5L341.1 177.2L341.6 173.5L342.2 177.2L349.5 177.2L350.1 180.9L355.7 180.9L356.3 184.6L361.9 184.6L362.5 188.3L370.4 188.3L371.0 192.0L395.8 192.0L396.3 188.3L403.7 188.3L404.2 184.6L410.4 184.6L411.0 180.9L416.1 180.9L416.6 177.2L422.3 177.2L422.8 173.5L427.4 173.5L427.9 169.8L446.0 169.8L446.5 173.5L452.2 173.5L452.7 177.2L457.2 177.2L457.8 180.9L461.8 180.9L462.3 184.6L465.7 184.6L466.3 188.3L470.8 188.3L471.3 192.0L475.9 192.0L476.4 195.6L480.9 195.6L481.5 199.3L489.4 199.3L489.9 203.0L490.5 203.0L491.1 199.3L491.6 203.0L518.1 203.0L518.7 199.3L519.3 203.0L519.8 199.3L520.4 199.3L521.0 203.0L521.5 199.3L536.2 199.3L536.8 195.6L537.3 199.3L537.9 195.6L545.8 195.6L546.3 192.0L546.9 195.6L547.5 192.0L560.4 192.0L561.0 188.3L568.9 188.3L569.5 184.6L570.0 188.3L570.6 184.6L575.7 184.6L576.2 180.9L583.6 180.9L584.1 177.2L613.4 177.2L614.0 180.9L620.2 180.9L620.8 184.6L621.3 180.9L621.9 184.6L628.1 184.6L628.7 188.3L634.9 188.3L635.4 192.0L642.8 192.0L643.3 195.6L680.0 195.6L680.5 192.0L690.1 192.0L690.7 188.3L691.3 192.0L691.8 188.3L705.4 188.3L705.9 184.6L712.1 184.6L712.7 180.9L713.2 184.6L713.8 180.9L723.4 180.9L724.0 177.2L738.6 177.2L739.2 173.5L767.4 173.5L767.9 177.2L781.5 177.2L782.0 180.9L788.2 180.9L788.8 184.6L796.1 184.6L796.7 188.3L836.7 188.3L837.3 184.6L843.5 184.6L844.1 180.9L855.9 180.9L856.5 177.2L857.0 180.9L857.6 177.2L872.3 177.2L872.8 173.5L896.5 173.5L897.1 177.2L897.6 173.5L914.0 173.5L914.6 177.2L919.6 177.2L920.2 180.9L923.6 180.9L924.1 184.6L932.6 184.6" stroke="#e51e10" stroke-width="2"/>
<path class="c" d="M120.6 180.9L125.1 180.9L125.7 184.6L141.5 184.6L142.0 188.3L148.8 188.3L149.4 184.6L167.4 184.6L168.0 180.9L175.3 180.9L175.9 177.2L183.2 177.2L183.8 173.5L190.5 173.5L191.1 169.8L199.0 169.8L199.5 166.1L201.2 166.1L201.8 169.8L214.8 169.8L215.3 173.5L221.0 173.5L221.5 177.2L226.6 177.2L227.2 180.9L231.7 180.9L232.2 184.6L236.2 184.6L236.8 188.3L237.3 184.6L237.9 188.3L242.4 188.3L243.0 192.0L247.5 192.0L248.0 195.6L252.6 195.6L253.1 199.3L258.2 199.3L258.8 203.0L284.7 203.0L285.3 199.3L289.2 199.3L289.8 195.6L296.0 195.6L296.5 192.0L302.7 192.0L303.3 188.3L308.4 188.3L308.9 184.6L315.1 184.6L315.7 180.9L321.9 180.9L322.5 177.2L346.2 177.2L346.7 180.9L351.8 180.9L352.4 184.6L358.6 184.6L359.1 188.3L365.3 188.3L365.9 192.0L371.5 192.0L372.1 195.6L393.5 195.6L394.1 192.0L400.9 192.0L401.4 188.3L407.6 188.3L408.2 184.6L414.4 184.6L415.0 180.9L420.6 180.9L421.2 177.2L427.4 177.2L427.9 173.5L444.3 173.5L444.8 177.2L445.4 173.5L446.0 173.5L446.5 177.2L453.9 177.2L454.4 180.9L458.9 180.9L459.5 184.6L464.0 184.6L464.6 188.3L468.5 188.3L469.1 192.0L473.6 192.0L474.2 195.6L478.1 195.6L478.7 199.3L484.3 199.3L484.9 203.0L492.8 203.0L493.3 206.7L516.5 206.7L517.0 203.0L533.9 203.0L534.5 199.3L543.5 199.3L544.1 195.6L553.7 195.6L554.2 192.0L559.9 192.0L560.4 188.3L566.6 188.3L567.2 184.6L574.0 184.6L574.5 180.9L580.2 180.9L580.7 177.2L589.2 177.2L589.8 173.5L597.1 173.5L597.6 177.2L598.2 173.5L602.2 173.5L602.7 177.2L603.3 173.5L607.8 173.5L608.4 177.2L616.3 177.2L616.8 180.9L623.6 180.9L624.2 184.6L630.9 184.6L631.5 188.3L637.7 188.3L638.2 192.0L646.1 192.0L646.7 195.6L647.3 192.0L650.1 192.0L650.7 195.6L651.2 192.0L652.9 192.0L653.5 195.6L654.0 192.0L656.3 192.0L656.9 195.6L657.4 195.6L658.6 195.6L659.1 192.0L659.7 192.0L660.2 195.6L660.8 195.6L661.4 192.0L661.9 195.6L662.5 192.0L664.2 192.0L664.8 195.6L665.3 195.6L665.9 192.0L666.4 195.6L667.0 195.6L667.6 192.0L684.5 192.0L685.1 188.3L696.9 188.3L697.5 184.6L698.0 188.3L700.8 188.3L701.4 184.6L708.7 184.6L709.3 180.9L709.9 184.6L710.4 180.9L717.8 180.9L718.3 177.2L726.8 177.2L727.3 173.5L727.9 177.2L728.5 177.2L729.0 173.5L739.8 173.5L740.3 169.8L766.8 169.8L767.4 173.5L780.4 173.5L780.9 177.2L788.2 177.2L788.8 180.9L795.0 180.9L795.6 184.6L818.7 184.6L819.3 188.3L819.8 184.6L836.7 184.6L837.3 180.9L845.8 180.9L846.3 177.2L858.7 177.2L859.3 173.5L873.4 173.5L874.0 169.8L913.4 169.8L914.0 173.5L918.5 173.5L919.1 177.2L923.0 177.2L923.6 180.9L924.1 177.2L924.7 180.9L932.6 180.9" stroke="#000000" stroke-width="2"/>
<path class="c" d="M120.6 177.2L121.7 177.2L122.3 173.5L122.9 177.2L123.4 173.5L124.0 169.8L124.5 173.5L126.8 173.5L127.4 177.2L127.9 173.5L129.6 173.5L130.2 169.8L130.8 173.5L131.9 173.5L132.4 177.2L133.0 173.5L135.3 173.5L135.8 169.8L136.4 173.5L140.3 173.5L140.9 169.8L141.5 173.5L156.1 173.5L156.7 169.8L166.8 169.8L167.4 162.4L168.0 169.8L171.3 169.8L171.9 166.1L183.2 166.1L183.8 162.4L196.2 162.4L196.7 155.0L197.3 162.4L206.3 162.4L206.9 166.1L209.7 166.1L210.3 169.8L213.1 169.8L213.6 173.5L220.4 173.5L221.0 177.2L244.7 177.2L245.2 173.5L270.6 173.5L271.2 169.8L271.7 169.8L272.3 173.5L274.0 173.5L274.5 169.8L275.1 173.5L275.7 173.5L276.2 166.1L276.8 173.5L279.1 173.5L279.6 169.8L280.2 173.5L280.7 169.8L281.3 166.1L281.9 173.5L282.4 173.5L283.0 169.8L283.6 173.5L284.1 169.8L292.0 169.8L292.6 173.5L293.1 169.8L295.4 169.8L296.0 173.5L296.5 169.8L298.8 169.8L299.4 166.1L321.3 166.1L321.9 162.4L322.5 166.1L323.0 166.1L323.6 158.7L324.2 166.1L329.2 166.1L329.8 169.8L339.4 169.8L340.0 173.5L340.5 169.8L341.1 173.5L341.6 169.8L342.2 173.5L342.8 173.5L343.3 169.8L343.9 169.8L344.5 173.5L345.0 173.5L345.6 169.8L346.2 173.5L356.3 173.5L356.9 177.2L358.6 177.2L359.1 180.9L359.7 177.2L360.3 177.2L360.8 173.5L361.4 177.2L362.5 177.2L363.1 173.5L363.6 177.2L364.2 173.5L383.9 173.5L384.5 166.1L385.1 169.8L385.6 169.8L386.2 166.1L386.8 169.8L400.9 169.8L401.4 166.1L410.4 166.1L411.0 162.4L419.5 162.4L420.0 158.7L422.8 158.7L423.4 162.4L431.9 162.4L432.4 166.1L436.9 166.1L437.5 169.8L440.3 169.8L440.9 173.5L443.7 173.5L444.3 177.2L447.7 177.2L448.2 180.9L456.7 180.9L457.2 184.6L457.8 180.9L458.4 180.9L458.9 184.6L459.5 180.9L460.1 180.9L460.6 184.6L461.2 180.9L468.5 180.9L469.1 177.2L469.6 180.9L471.3 180.9L471.9 177.2L482.1 177.2L482.6 173.5L493.3 173.5L493.9 169.8L505.2 169.8L505.7 166.1L523.2 166.1L523.8 162.4L538.4 162.4L539.0 158.7L546.3 158.7L546.9 155.0L547.5 158.7L548.0 158.7L548.6 155.0L549.2 158.7L549.7 158.7L550.3 155.0L550.8 158.7L551.4 155.0L561.6 155.0L562.1 151.3L583.6 151.3L584.1 147.6L584.7 151.3L585.2 151.3L585.8 147.6L586.4 151.3L589.2 151.3L589.8 155.0L592.0 155.0L592.6 158.7L595.4 158.7L596.0 162.4L598.8 162.4L599.3 166.1L602.7 166.1L603.3 169.8L625.3 169.8L625.8 166.1L671.5 166.1L672.1 162.4L672.6 166.1L678.3 166.1L678.9 162.4L679.4 166.1L691.8 166.1L692.4 162.4L692.9 166.1L696.9 166.1L697.5 162.4L698.0 166.1L698.6 166.1L699.2 162.4L699.7 166.1L702.0 166.1L702.5 162.4L703.1 166.1L705.4 166.1L705.9 162.4L706.5 166.1L707.0 166.1L707.6 162.4L708.2 166.1L710.4 166.1L711.0 162.4L711.6 166.1L720.6 166.1L721.1 169.8L721.7 166.1L722.3 169.8L724.0 169.8L724.5 173.5L725.1 169.8L725.7 169.8L726.2 173.5L726.8 169.8L751.0 169.8L751.6 166.1L756.1 166.1L756.7 162.4L757.2 166.1L757.8 166.1L758.4 162.4L758.9 166.1L759.5 166.1L760.1 162.4L760.6 166.1L850.8 166.1L851.4 169.8L860.4 169.8L861.0 173.5L901.6 173.5L902.2 169.8L902.7 173.5L903.3 173.5L903.8 169.8L905.0 169.8L905.5 166.1L906.1 169.8L906.7 169.8L907.2 166.1L907.8 169.8L932.6 169.8" stroke="#a0a0a0" stroke-width="1"/>
</g>
<g id="humidity">
<path class="c" d="M120.6 365.3L165.7 365.3L166.3 361.7L166.8 365.3L167.4 368.3L168.0 365.3L168.5 363.7L236.8 363.7L237.3 359.2L237.9 363.7L238.5 365.8L239.0 363.7L250.3 363.7L250.9 361.7L402.5 361.7L403.1 359.7L852.5 359.7L853.1 361.3L932.6 361.3" stroke="#9400d3" stroke-width="2"/>
<path class="c" d="M120.6 385.8L299.4 385.8L299.9 387.8L378.9 387.8L379.4 392.5L380.0 387.8L390.1 387.8L390.7 385.0L391.3 387.8L391.8 393.3L392.4 385.8L393.0 387.8L393.5 393.0L394.1 387.8L394.6 386.7L395.2 387.8L395.8 391.7L396.3 387.8L397.5 387.8L398.0 389.7L461.8 389.7L462.3 386.7L462.9 389.7L463.4 394.7L464.0 389.7L464.6 388.3L465.1 389.7L465.7 389.7L466.3 393.3L466.8 389.7L467.4 390.0L468.0 389.7L468.5 389.7L469.1 392.5L469.6 389.7L470.2 392.0L751.0 392.0L751.6 396.7L752.2 392.0L755.0 392.0L755.5 394.2L756.1 392.0L759.5 392.0L760.1 396.7L760.6 392.0L761.7 392.0L762.3 397.0L762.9 392.0L765.7 392.0L766.3 396.7L766.8 392.0L847.5 392.0L848.0 389.2L848.6 392.0L849.1 396.7L849.7 392.0L850.3 389.7L850.8 392.0L851.4 395.8L852.0 392.0L852.5 392.0L853.1 390.8L853.7 392.0L854.2 393.8L916.2 393.8L916.8 389.2L917.4 393.8L917.9 395.0L918.5 393.8L919.1 393.8L919.6 390.8L920.2 393.8L920.8 394.2L921.3 393.8L921.9 392.0L932.6 392.0" stroke="#009e73" stroke-width="2"/>
<path class="c" d="M120.6 377.8L125.1 377.8L125.7 375.0L126.2 377.8L170.8 377.8L171.3 375.8L171.9 377.8L172.5 380.3L173.0 377.8L173.6 375.8L188.8 375.8L189.4 377.8L198.4 377.8L199.0 375.8L271.7 375.8L272.3 377.8L311.2 377.8L311.8 379.7L369.3 379.7L369.8 382.0L430.7 382.0L431.3 379.2L431.9 382.0L432.4 383.7L458.4 383.7L458.9 375.8L459.5 371.7L460.1 371.7L460.6 367.6L461.2 365.5L461.8 361.4L462.3 357.3L462.9 355.3L463.4 353.2L464.0 349.1L464.6 347.1L465.1 345.0L465.7 343.0L466.3 340.9L466.8 338.9L467.4 336.8L469.6 336.8L470.2 334.8L473.0 334.8L473.6 332.7L474.2 334.8L474.7 332.7L476.4 332.7L477.0 330.7L477.5 328.6L478.1 330.7L478.7 328.6L479.2 328.6L479.8 326.6L480.9 326.6L481.5 324.5L482.1 324.5L482.6 320.4L483.2 322.5L484.3 322.5L484.9 320.4L486.6 320.4L487.1 318.4L487.7 318.4L488.3 316.3L488.8 318.4L489.4 316.3L489.9 316.3L490.5 314.2L491.1 316.3L491.6 314.2L492.2 314.2L492.8 312.2L495.0 312.2L495.6 310.1L496.1 307.1L496.7 312.2L497.3 308.1L497.8 308.1L498.4 310.1L499.0 308.1L503.5 308.1L504.0 306.0L504.6 308.1L505.2 308.1L505.7 306.0L506.9 306.0L507.4 304.0L508.0 304.0L508.6 299.9L509.1 304.0L510.2 304.0L510.8 301.9L511.4 304.0L511.9 304.0L512.5 301.9L513.1 301.9L513.6 304.0L514.2 304.0L514.8 301.9L516.5 301.9L517.0 299.9L517.6 292.7L518.1 297.8L518.7 297.8L519.3 295.8L523.2 295.8L523.8 293.7L526.0 293.7L526.6 291.7L527.7 291.7L528.3 284.5L528.9 289.6L529.4 291.7L530.0 289.6L531.1 289.6L531.7 287.6L532.2 289.6L535.6 289.6L536.2 287.6L536.8 289.6L537.3 287.6L538.4 287.6L539.0 289.6L539.6 287.6L540.1 283.5L540.7 287.6L541.3 287.6L541.8 290.7L542.4 287.6L544.1 287.6L544.6 283.5L545.2 285.5L545.8 285.5L546.3 287.6L546.9 289.6L547.5 287.6L548.0 283.5L548.6 285.5L550.8 285.5L551.4 280.4L552.0 285.5L552.5 283.5L553.1 285.5L553.7 283.5L559.3 283.5L559.9 281.4L560.4 283.5L561.0 281.4L563.8 281.4L564.4 283.5L564.9 283.5L565.5 281.4L569.5 281.4L570.0 279.4L572.3 279.4L572.8 275.3L573.4 283.5L574.0 279.4L577.9 279.4L578.5 283.5L579.0 279.4L580.2 279.4L580.7 281.4L581.3 279.4L583.6 279.4L584.1 279.5L593.1 279.5L593.7 275.0L594.3 279.5L594.8 280.0L595.4 277.5L615.7 277.5L616.3 275.0L618.5 275.0L619.1 278.3L619.6 275.0L625.8 275.0L626.4 273.0L636.6 273.0L637.1 269.2L637.7 273.0L638.2 275.8L638.8 270.8L656.9 270.8L657.4 266.7L658.0 270.8L658.6 274.2L659.1 270.8L659.7 267.5L660.2 269.2L666.4 269.2L667.0 270.8L669.3 270.8L669.8 266.7L670.4 270.8L671.0 273.3L671.5 270.8L672.1 269.2L672.6 270.8L673.2 273.7L673.8 270.8L680.0 270.8L680.5 269.2L708.7 269.2L709.3 267.0L730.2 267.0L730.7 265.0L736.9 265.0L737.5 260.8L738.1 266.7L738.6 265.0L739.2 263.0L761.2 263.0L761.7 260.8L787.7 260.8L788.2 258.7L801.2 258.7L801.8 256.7L826.0 256.7L826.6 254.7L879.6 254.7L880.2 256.7L892.0 256.7L892.6 258.7L902.7 258.7L903.3 260.8L920.2 260.8L920.8 262.8L932.6 262.8" stroke="#56b4e9" stroke-width="2"/>
<path class="c" d="M120.6 398.3L216.5 398.3L217.0 394.2L217.6 398.3L218.2 398.3L218.7 396.7L299.4 396.7L299.9 398.3L303.3 398.3L303.9 393.3L304.4 398.3L307.8 398.3L308.4 393.3L308.9 398.3L456.7 398.3L457.2 392.2L457.8 388.1L458.4 384.0L458.9 379.9L459.5 373.8L460.1 371.7L460.6 369.6L461.2 369.6L461.8 367.6L462.3 367.6L462.9 365.5L463.4 363.5L464.0 359.4L464.6 349.1L465.1 338.9L465.7 334.8L466.3 330.7L466.8 326.6L467.4 324.5L468.0 322.5L468.5 320.4L469.1 318.4L469.6 316.3L470.2 314.2L470.8 310.1L471.9 310.1L472.5 308.1L473.0 308.1L473.6 306.0L474.7 306.0L475.3 304.0L477.0 304.0L477.5 301.9L479.2 301.9L479.8 299.9L481.5 299.9L482.1 297.8L483.7 297.8L484.3 295.8L486.0 295.8L486.6 293.7L487.7 293.7L488.3 291.7L491.6 291.7L492.2 289.6L495.6 289.6L496.1 287.6L498.4 287.6L499.0 285.5L500.1 285.5L500.7 283.5L502.4 283.5L502.9 281.4L505.2 281.4L505.7 279.4L509.1 279.4L509.7 277.3L513.6 277.3L514.2 275.3L516.5 275.3L517.0 273.2L517.6 273.2L518.1 271.2L518.7 271.2L519.3 269.1L519.8 271.2L528.3 271.2L528.9 269.1L533.9 269.1L534.5 267.1L539.0 267.1L539.6 265.0L544.6 265.0L545.2 263.0L552.5 263.0L553.1 260.9L559.3 260.9L559.9 258.8L575.7 258.8L576.2 256.8L583.6 256.8L584.1 256.7L586.9 256.7L587.5 254.7L611.7 254.7L612.3 252.5L637.7 252.5L638.2 250.5L665.3 250.5L665.9 246.7L666.4 248.7L705.9 248.7L706.5 246.7L755.0 246.7L755.5 244.5L761.7 244.5L762.3 246.7L762.9 244.5L825.5 244.5L826.0 242.5L932.6 242.5" stroke="#e69f00" stroke-width="2"/>
<path class="c" d="M120.6 400.0L412.1 400.0L412.7 402.5L519.3 402.5L519.8 400.0L520.4 406.7L521.0 402.5L521.5 404.5L932.6 404.5" stroke="#f0e442" stroke-width="2"/>
<path class="c" d="M120.6 372.0L193.3 372.0L193.9 369.2L194.5 372.0L195.0 372.0L195.6 375.8L196.2 372.0L196.7 372.0L197.3 370.0L197.9 372.0L198.4 372.0L199.0 375.0L199.5 372.0L201.8 372.0L202.4 375.8L202.9 372.0L205.2 372.0L205.7 375.0L206.3 372.0L465.7 372.0L466.3 367.5L466.8 372.0L468.0 372.0L468.5 370.0L572.8 370.0L573.4 367.5L574.0 370.0L574.5 374.2L575.1 372.0L628.7 372.0L629.2 370.0L737.5 370.0L738.1 374.2L738.6 370.0L742.0 370.0L742.6 370.8L744.8 370.8L745.4 367.0L746.0 370.8L751.0 370.8L751.6 367.0L752.2 370.8L756.1 370.8L756.7 367.0L757.2 370.8L762.9 370.8L763.4 370.0L766.8 370.0L767.4 374.2L767.9 370.0L770.2 370.0L770.8 374.2L771.3 370.0L868.3 370.0L868.9 366.7L869.4 374.2L870.0 370.0L870.6 366.7L871.1 370.0L871.7 373.7L872.3 370.0L872.8 371.7L932.6 371.7" stroke="#0072b2" stroke-width="2"/>
<path class="c" d="M120.6 355.0L253.7 355.0L254.2 353.3L300.5 353.3L301.0 350.8L301.6 353.3L302.2 355.0L475.3 355.0L475.9 353.0L570.6 353.0L571.1 355.0L635.4 355.0L636.0 350.8L636.6 355.0L637.1 353.0L712.1 353.0L712.7 355.8L713.2 353.0L718.9 353.0L719.5 350.8L720.0 353.0L721.1 353.0L721.7 350.8L722.3 353.0L722.8 355.0L794.4 355.0L795.0 353.0L797.8 353.0L798.4 355.8L799.0 353.0L857.0 353.0L857.6 350.8L858.2 353.0L859.3 353.0L859.9 350.8L860.4 353.0L861.0 355.0L932.6 355.0" stroke="#e51e10" stroke-width="2"/>
<path class="c" d="M120.6 357.0L199.5 357.0L200.1 354.2L200.7 357.0L201.2 358.7L202.9 358.7L203.5 357.0L205.7 357.0L206.3 358.7L208.0 358.7L208.6 355.0L210.8 355.0L211.4 360.0L211.9 355.0L214.2 355.0L214.8 359.2L215.3 355.0L215.9 357.0L265.5 357.0L266.1 355.3L297.1 355.3L297.7 357.0L391.3 357.0L391.8 353.3L392.4 357.0L393.0 357.0L393.5 360.0L394.1 357.0L394.6 357.0L395.2 354.2L395.8 357.0L396.3 359.2L396.9 357.0L397.5 355.5L404.8 355.5L405.4 360.0L405.9 355.5L414.4 355.5L415.0 360.0L415.5 355.5L417.2 355.5L417.8 360.0L418.3 355.5L419.5 355.5L420.0 357.8L474.2 357.8L474.7 353.3L475.3 357.8L475.9 360.0L476.4 355.5L568.9 355.5L569.5 352.5L570.0 355.5L570.6 359.2L571.1 355.5L571.7 357.7L649.0 357.7L649.5 355.5L693.5 355.5L694.1 357.7L810.2 357.7L810.8 352.5L811.4 360.8L811.9 357.7L812.5 355.8L814.2 355.8L814.7 360.0L815.3 355.8L815.9 355.8L816.4 360.0L817.0 355.8L828.3 355.8L828.8 359.2L829.4 355.8L830.0 352.5L830.5 355.8L831.1 360.0L831.7 355.8L832.2 353.3L832.8 355.8L833.4 357.7L932.6 357.7" stroke="#000000" stroke-width="2"/>
<path class="c" d="M120.6 340.8L131.3 340.8L131.9 341.7L136.4 341.7L137.0 345.0L151.6 345.0L152.2 340.8L157.8 340.8L158.4 338.3L184.9 338.3L185.4 340.8L201.2 340.8L201.8 336.7L231.1 336.7L231.7 338.3L246.3 338.3L246.9 340.8L271.2 340.8L271.7 342.5L314.6 342.5L315.1 340.3L324.7 340.3L325.3 336.7L329.8 336.7L330.4 338.3L343.3 338.3L343.9 336.7L344.5 338.3L387.9 338.3L388.4 336.7L399.7 336.7L400.3 334.7L408.2 334.7L408.7 333.0L421.2 333.0L421.7 334.7L426.2 334.7L426.8 336.3L430.2 336.3L430.7 335.8L431.3 336.3L431.9 339.2L438.1 339.2L438.6 342.5L448.2 342.5L448.8 340.0L453.3 340.0L453.9 336.7L457.8 336.7L458.4 340.8L476.4 340.8L477.0 343.3L477.5 340.8L494.5 340.8L495.0 342.5L548.0 342.5L548.6 340.8L554.8 340.8L555.4 338.3L566.6 338.3L567.2 340.8L572.8 340.8L573.4 342.5L577.9 342.5L578.5 340.8L584.7 340.8L585.2 336.7L589.8 336.7L590.3 338.7L599.9 338.7L600.5 341.3L601.0 338.7L606.1 338.7L606.7 336.7L611.2 336.7L611.7 335.0L621.3 335.0L621.9 336.7L649.5 336.7L650.1 338.7L656.3 338.7L656.9 336.7L664.8 336.7L665.3 338.7L681.1 338.7L681.7 336.7L699.7 336.7L700.3 334.7L709.9 334.7L710.4 332.5L724.5 332.5L725.1 330.3L725.7 332.5L736.4 332.5L736.9 334.7L755.0 334.7L755.5 332.5L756.1 334.7L766.3 334.7L766.8 332.5L781.5 332.5L782.0 334.7L809.7 334.7L810.2 332.5L816.4 332.5L817.0 334.7L836.2 334.7L836.7 332.5L849.7 332.5L850.3 330.5L859.9 330.5L860.4 332.5L866.6 332.5L867.2 330.5L883.0 330.5L883.5 332.5L893.7 332.5L894.3 334.7L932.6 334.7" stroke="#a0a0a0" stroke-width="1"/>
</g>
<g id="pressure">
<path class="c" d="M120.6 447.9L121.2 447.2L121.7 447.9L122.3 448.4L122.9 449.5L123.4 449.2L124.0 447.4L124.5 447.6L125.1 446.9L125.7 447.7L126.2 448.0L126.8 448.5L127.4 451.1L127.9 449.2L128.5 448.8L129.1 448.8L129.6 451.6L130.2 453.0L130.8 452.2L131.3 451.2L131.9 449.6L132.4 449.3L133.0 448.2L133.6 449.1L134.1 448.2L134.7 447.5L135.3 448.5L135.8 445.7L136.4 445.8L137.0 445.0L137.5 446.8L138.1 447.6L138.6 447.4L139.2 446.8L139.8 445.5L140.3 445.3L140.9 446.0L141.5 446.8L142.0 446.5L142.6 444.1L143.2 445.9L143.7 445.6L144.3 445.4L144.8 447.9L145.4 447.2L146.0 445.5L146.5 449.1L147.1 448.8L147.7 448.5L148.2 449.4L148.8 448.3L149.4 448.7L149.9 450.9L150.5 449.0L151.1 448.6L151.6 448.2L152.2 447.5L152.7 448.8L153.3 449.9L153.9 452.3L154.4 450.9L155.0 451.6L155.6 451.5L156.1 452.4L156.7 452.3L157.3 451.5L157.8 448.7L158.4 451.5L158.9 451.9L159.5 449.8L160.1 447.1L160.6 446.9L161.2 449.8L161.8 451.8L162.3 448.9L162.9 448.8L163.5 449.1L164.0 446.4L164.6 444.9L165.1 445.4L165.7 445.8L166.3 445.8L166.8 444.4L167.4 445.1L168.0 445.7L168.5 446.0L169.1 449.0L169.7 446.7L170.2 446.3L170.8 446.7L171.3 450.2L171.9 450.2L172.5 448.3L173.0 451.1L173.6 450.3L174.2 448.5L174.7 450.8L175.3 448.0L175.9 448.1L176.4 449.0L177.0 448.8L177.6 448.2L178.1 448.7L178.7 447.5L179.2 449.3L179.8 449.8L180.4 448.1L180.9 448.6L181.5 450.0L182.1 448.3L182.6 446.8L183.2 448.6L183.8 450.6L184.3 449.9L184.9 449.5L185.4 449.6L186.0 447.4L186.6 449.5L187.1 447.5L187.7 449.8L188.3 450.2L188.8 448.4L189.4 446.9L190.0 446.4L190.5 446.8L191.1 447.1L191.7 447.1L192.2 446.5L192.8 447.1L193.3 446.7L193.9 446.0L194.5 446.3L195.0 445.4L195.6 445.1L196.2 443.1L196.7 444.2L197.3 445.6L197.9 446.0L198.4 445.7L199.0 444.2L199.5 445.1L200.1 444.5L200.7 442.3L201.2 447.0L201.8 447.2L202.4 445.5L202.9 444.4L203.5 444.2L204.1 444.8L204.6 443.7L205.2 443.6L205.7 444.6L206.3 441.2L206.9 442.3L207.4 443.9L208.0 444.0L208.6 444.2L209.1 444.0L209.7 447.3L210.3 445.9L210.8 443.3L211.4 444.9L211.9 444.1L212.5 442.4L213.1 441.7L213.6 440.6L214.2 444.1L214.8 443.9L215.3 443.9L215.9 442.8L216.5 441.7L217.0 446.2L217.6 443.4L218.2 445.5L218.7 443.7L219.3 445.8L219.8 444.7L220.4 442.9L221.0 443.9L221.5 444.0L222.1 443.3L222.7 443.6L223.2 444.0L223.8 442.0L224.4 441.6L224.9 443.1L225.5 439.8L226.0 443.2L226.6 442.1L227.2 443.0L227.7 442.8L228.3 441.9L228.9 442.0L229.4 441.5L230.0 444.0L230.6 445.3L231.1 443.3L231.7 444.5L232.2 445.3L232.8 446.3L233.4 443.4L233.9 442.8L234.5 441.8L235.1 444.5L235.6 444.7L236.2 446.3L236.8 444.7L237.3 443.1L237.9 445.6L238.5 443.7L239.0 443.7L239.6 445.4L240.1 448.4L240.7 445.3L241.3 445.8L241.8 446.6L242.4 445.6L243.0 445.1L243.5 443.4L244.1 445.9L244.7 444.1L245.2 442.8L245.8 442.2L246.3 444.0L246.9 445.5L247.5 443.8L248.0 444.2L248.6 444.3L249.2 442.6L249.7 444.0L250.3 447.0L250.9 445.7L251.4 446.9L252.0 443.7L252.6 442.8L253.1 443.4L253.7 442.7L254.2 441.2L254.8 441.3L255.4 439.5L255.9 440.4L256.5 439.2L257.1 438.0L257.6 437.2L258.2 439.6L258.8 438.6L259.3 441.6L259.9 441.8L260.4 442.9L261.0 439.3L261.6 440.6L262.1 439.4L262.7 439.0L263.3 438.5L263.8 438.9L264.4 437.9L265.0 435.2L265.5 436.0L266.1 435.5L266.6 434.4L267.2 435.3L267.8 436.8L268.3 436.3L268.9 433.8L269.5 435.9L270.0 435.3L270.6 433.2L271.2 432.5L271.7 433.3L272.3 432.6L272.9 433.2L273.4 435.2L274.0 436.6L274.5 436.1L275.1 433.8L275.7 434.8L276.2 435.7L276.8 435.9L277.4 437.0L277.9 435.7L278.5 436.5L279.1 434.9L279.6 437.7L280.2 435.6L280.7 436.0L281.3 437.9L281.9 435.4L282.4 435.7L283.0 438.4L283.6 438.0L284.1 436.3L284.7 436.6L285.3 435.3L285.8 434.8L286.4 434.7L286.9 435.2L287.5 434.2L288.1 434.7L288.6 435.3L289.2 438.9L289.8 436.8L290.3 435.4L290.9 436.9L291.5 438.0L292.0 435.4L292.6 439.1L293.1 438.0L293.7 435.1L294.3 438.2L294.8 437.7L295.4 435.9L296.0 437.9L296.5 437.9L297.1 437.6L297.7 439.8L298.2 439.2L298.8 438.3L299.4 436.9L299.9 437.2L300.5 437.2L301.0 438.1L301.6 437.4L302.2 435.2L302.7 435.1L303.3 436.0L303.9 436.1L304.4 431.4L305.0 431.0L305.6 431.6L306.1 435.9L306.7 433.6L307.2 432.7L307.8 430.6L308.4 431.3L308.9 432.1L309.5 431.7L310.1 434.6L310.6 431.9L311.2 431.6L311.8 432.7L312.3 430.5L312.9 428.8L313.5 432.1L314.0 432.6L314.6 431.5L315.1 431.0L315.7 431.6L316.3 432.5L316.8 428.9L317.4 428.6L318.0 431.3L318.5 432.6L319.1 429.3L319.7 428.6L320.2 427.2L320.8 427.8L321.3 430.2L321.9 429.8L322.5 432.6L323.0 431.2L323.6 429.1L324.2 426.8L324.7 426.8L325.3 426.0L325.9 425.0L326.4 424.6L327.0 424.0L327.5 424.3L328.1 425.0L328.7 423.9L329.2 424.2L329.8 425.5L330.4 425.7L330.9 425.0L331.5 424.7L332.1 424.2L332.6 424.2L333.2 423.8L333.8 424.0L334.3 425.5L334.9 424.0L335.4 422.5L336.0 422.7L336.6 423.7L337.1 423.3L337.7 425.0L338.3 427.0L338.8 425.4L339.4 426.0L340.0 424.2L340.5 425.8L341.1 428.5L341.6 427.7L342.2 424.0L342.8 424.9L343.3 426.7L343.9 426.7L344.5 425.1L345.0 424.4L345.6 424.7L346.2 423.2L346.7 423.6L347.3 424.8L347.8 424.6L348.4 423.2L349.0 423.5L349.5 423.7L350.1 426.6L350.7 426.6L351.2 425.6L351.8 426.5L352.4 425.1L352.9 425.2L353.5 424.8L354.1 426.1L354.6 423.2L355.2 423.6L355.7 425.7L356.3 426.3L356.9 423.3L357.4 425.8L358.0 425.4L358.6 425.2L359.1 426.3L359.7 428.4L360.3 427.6L360.8 427.1L361.4 425.9L361.9 425.9L362.5 426.9L363.1 426.3L363.6 426.5L364.2 427.0L364.8 427.5L365.3 427.9L365.9 426.7L366.5 428.2L367.0 428.1L367.6 427.1L368.1 428.4L368.7 427.4L369.3 428.9L369.8 427.6L370.4 425.3L371.0 424.0L371.5 424.1L372.1 424.2L372.7 425.7L373.2 422.1L373.8 422.2L374.4 421.4L374.9 423.6L375.5 423.6L376.0 425.7L376.6 423.2L377.2 421.8L377.7 424.8L378.3 423.7L378.9 422.3L379.4 424.7L380.0 425.8L380.6 425.4L381.1 424.7L381.7 425.4L382.2 424.0L382.8 423.0L383.4 422.2L383.9 421.7L384.5 420.5L385.1 420.4L385.6 423.6L386.2 424.1L386.8 425.0L387.3 425.5L387.9 424.5L388.4 423.9L389.0 423.1L389.6 425.4L390.1 426.1L390.7 424.8L391.3 424.5L391.8 424.7L392.4 424.6L393.0 425.6L393.5 424.2L394.1 424.2L394.6 424.8L395.2 426.0L395.8 426.0L396.3 429.4L396.9 428.8L397.5 427.3L398.0 428.8L398.6 427.4L399.2 426.9L399.7 428.8L400.3 428.2L400.9 427.9L401.4 426.8L402.0 426.1L402.5 426.7L403.1 427.9L403.7 427.6L404.2 427.4L404.8 426.2L405.4 426.3L405.9 427.6L406.5 429.0L407.1 428.4L407.6 428.6L408.2 429.1L408.7 428.1L409.3 428.1L409.9 427.4L410.4 426.4L411.0 427.1L411.6 423.8L412.1 425.7L412.7 424.6L413.3 425.4L413.8 424.4L414.4 428.3L415.0 428.0L415.5 426.5L416.1 425.3L416.6 422.4L417.2 423.7L417.8 423.1L418.3 423.7L418.9 423.9L419.5 424.7L420.0 426.1L420.6 425.9L421.2 428.1L421.7 426.2L422.3 428.4L422.8 427.9L423.4 425.3L424.0 427.4L424.5 428.1L425.1 427.0L425.7 427.9L426.2 429.3L426.8 428.5L427.4 427.8L427.9 427.2L428.5 428.8L429.0 426.3L429.6 425.2L430.2 426.8L430.7 427.2L431.3 428.2L431.9 426.3L432.4 428.1L433.0 427.6L433.6 429.1L434.1 430.3L434.7 429.2L435.2 428.2L435.8 429.7L436.4 431.5L436.9 430.6L437.5 431.5L438.1 431.7L438.6 430.5L439.2 430.7L439.8 433.1L440.3 430.7L440.9 432.5L441.5 432.3L442.0 434.2L442.6 434.3L443.1 436.6L443.7 433.1L444.3 432.1L444.8 435.1L445.4 436.8L446.0 437.8L446.5 434.7L447.1 435.5L447.7 435.5L448.2 436.3L448.8 436.7L449.3 438.4L449.9 438.1L450.5 440.1L451.0 439.6L451.6 439.2L452.2 439.1L452.7 440.1L453.3 441.3L453.9 440.6L454.4 441.2L455.0 438.8L455.6 438.9L456.1 440.1L456.7 441.2L457.2 442.0L457.8 442.7L458.4 442.4L458.9 441.6L459.5 441.3L460.1 441.3L460.6 439.6L461.2 442.7L461.8 443.4L462.3 440.4L462.9 445.3L463.4 446.0L464.0 445.7L464.6 445.8L465.1 445.7L465.7 446.5L466.3 446.2L466.8 446.6L467.4 446.0L468.0 449.2L468.5 449.5L469.1 448.6L469.6 449.6L470.2 450.1L470.8 448.1L471.3 448.8L471.9 447.5L472.5 446.7L473.0 446.9L473.6 446.8L474.2 447.4L474.7 449.4L475.3 448.5L475.9 447.5L476.4 448.3L477.0 448.0L477.5 446.8L478.1 448.4L478.7 447.1L479.2 444.9L479.8 447.0L480.4 447.2L480.9 447.7L481.5 445.8L482.1 446.6L482.6 446.3L483.2 448.2L483.7 448.3L484.3 448.4L484.9 450.8L485.4 447.7L486.0 447.1L486.6 450.4L487.1 448.6L487.7 449.1L488.3 448.6L488.8 448.5L489.4 451.0L489.9 450.5L490.5 448.1L491.1 449.7L491.6 451.1L492.2 452.3L492.8 452.7L493.3 451.3L493.9 449.1L494.5 450.1L495.0 451.0L495.6 449.1L496.1 452.1L496.7 453.9L497.3 453.4L497.8 453.5L498.4 455.8L499.0 457.3L499.5 456.3L500.1 456.2L500.7 458.3L501.2 458.0L501.8 458.5L502.4 457.6L502.9 458.2L503.5 458.6L504.0 459.3L504.6 458.0L505.2 457.2L505.7 459.3L506.3 458.8L506.9 460.9L507.4 461.0L508.0 460.3L508.6 459.2L509.1 461.4L509.7 462.1L510.2 462.4L510.8 465.1L511.4 464.7L511.9 465.7L512.5 465.1L513.1 467.1L513.6 469.4L514.2 468.1L514.8 467.6L515.3 468.7L515.9 467.6L516.5 469.0L517.0 470.3L517.6 469.8L518.1 472.3L518.7 472.5L519.3 471.9L519.8 470.7L520.4 471.7L521.0 471.7L521.5 473.1L522.1 472.7L522.7 471.0L523.2 473.4L523.8 470.7L524.3 473.6L524.9 474.3L525.5 474.5L526.0 473.7L526.6 476.5L527.2 479.1L527.7 477.0L528.3 476.0L528.9 476.0L529.4 473.6L530.0 475.8L530.5 477.0L531.1 476.9L531.7 477.7L532.2 476.7L532.8 480.1L533.4 480.8L533.9 485.3L534.5 482.0L535.1 482.3L535.6 481.0L536.2 479.2L536.8 481.4L537.3 483.0L537.9 484.3L538.4 485.6L539.0 486.2L539.6 485.1L540.1 485.6L540.7 486.1L541.3 486.9L541.8 486.1L542.4 486.6L543.0 487.9L543.5 487.7L544.1 488.9L544.6 491.1L545.2 488.9L545.8 489.3L546.3 491.5L546.9 490.1L547.5 490.5L548.0 493.4L548.6 490.8L549.2 491.5L549.7 491.2L550.3 492.4L550.8 493.9L551.4 496.7L552.0 495.2L552.5 496.1L553.1 497.0L553.7 496.9L554.2 497.4L554.8 497.1L555.4 498.6L555.9 499.1L556.5 502.3L557.1 501.7L557.6 500.3L558.2 499.1L558.7 501.0L559.3 501.8L559.9 500.2L560.4 502.2L561.0 502.1L561.6 501.2L562.1 503.2L562.7 502.9L563.3 505.6L563.8 505.9L564.4 506.7L564.9 507.2L565.5 506.4L566.1 504.7L566.6 508.3L567.2 510.1L567.8 509.7L568.3 511.6L568.9 510.6L569.5 510.2L570.0 511.3L570.6 510.9L571.1 513.5L571.7 511.9L572.3 514.3L572.8 514.4L573.4 514.5L574.0 514.4L574.5 512.9L575.1 513.4L575.7 514.4L576.2 513.8L576.8 512.4L577.4 513.9L577.9 514.5L578.5 514.1L579.0 515.5L579.6 518.6L580.2 515.4L580.7 514.7L581.3 520.2L581.9 520.5L582.4 520.4L583.0 520.0L583.6 520.6L584.1 522.4L584.7 524.6L585.2 524.3L585.8 523.1L586.4 525.5L586.9 526.7L587.5 526.1L588.1 528.5L588.6 527.6L589.2 527.7L589.8 526.7L590.3 528.0L590.9 529.0L591.4 529.0L592.0 528.7L592.6 529.6L593.1 529.3L593.7 528.4L594.3 527.7L594.8 527.1L595.4 530.5L596.0 531.9L596.5 535.5L597.1 531.9L597.6 534.0L598.2 534.4L598.8 534.3L599.3 537.0L599.9 536.2L600.5 536.3L601.0 538.6L601.6 536.9L602.2 535.0L602.7 538.1L603.3 536.0L603.9 535.9L604.4 535.5L605.0 535.3L605.5 534.2L606.1 535.6L606.7 535.3L607.2 537.3L607.8 537.1L608.4 539.4L608.9 539.9L609.5 538.1L610.1 539.3L610.6 541.0L611.2 543.4L611.7 544.4L612.3 544.0L612.9 543.0L613.4 543.4L614.0 543.6L614.6 544.7L615.1 543.6L615.7 545.5L616.3 546.8L616.8 545.7L617.4 546.5L618.0 547.5L618.5 548.6L619.1 548.8L619.6 548.0L620.2 548.2L620.8 550.5L621.3 549.6L621.9 549.7L622.5 551.5L623.0 550.2L623.6 551.1L624.2 551.8L624.7 550.9L625.3 550.0L625.8 552.4L626.4 552.2L627.0 554.0L627.5 550.9L628.1 553.2L628.7 551.8L629.2 553.4L629.8 552.2L630.4 549.7L630.9 554.6L631.5 554.1L632.0 552.5L632.6 552.5L633.2 553.1L633.7 549.6L634.3 550.7L634.9 553.3L635.4 551.1L636.0 553.4L636.6 550.9L637.1 552.4L637.7 552.4L638.3 551.2L638.8 552.4L639.4 555.2L639.9 557.0L640.5 554.4L641.1 554.0L641.6 556.1L642.2 555.2L642.8 555.4L643.3 555.6L643.9 559.7L644.5 559.3L645.0 557.8L645.6 557.6L646.1 557.6L646.7 562.2L647.3 561.1L647.8 560.5L648.4 557.8L649.0 561.3L649.5 562.4L650.1 562.7L650.7 562.0L651.2 563.8L651.8 562.8L652.3 565.2L652.9 565.2L653.5 566.6L654.0 566.6L654.6 568.0L655.2 570.1L655.7 567.9L656.3 568.2L656.9 569.4L657.4 569.0L658.0 567.8L658.6 570.0L659.1 569.8L659.7 569.0L660.2 568.8L660.8 569.8L661.4 572.6L661.9 569.7L662.5 569.7L663.1 570.3L663.6 571.1L664.2 570.9L664.8 571.8L665.3 573.1L665.9 573.5L666.4 573.6L667.0 573.9L667.6 574.8L668.1 573.1L668.7 574.9L669.3 573.4L669.8 575.0L670.4 574.0L671.0 572.3L671.5 573.2L672.1 574.9L672.6 574.8L673.2 574.7L673.8 577.2L674.3 576.9L674.9 575.9L675.5 576.4L676.0 576.0L676.6 575.1L677.2 574.7L677.7 574.5L678.3 574.9L678.9 576.3L679.4 576.7L680.0 577.3L680.5 577.6L681.1 577.7L681.7 579.7L682.2 578.9L682.8 578.2L683.4 579.2L683.9 578.4L684.5 577.5L685.1 577.9L685.6 575.3L686.2 580.3L686.7 579.4L687.3 581.2L687.9 578.4L688.4 575.1L689.0 580.3L689.6 579.3L690.1 578.4L690.7 579.3L691.3 578.7L691.8 582.2L692.4 579.9L692.9 579.6L693.5 580.0L694.1 581.2L694.6 580.2L695.2 581.4L695.8 581.1L696.3 581.9L696.9 584.4L697.5 582.7L698.0 581.7L698.6 580.5L699.2 582.0L699.7 581.6L700.3 580.6L700.8 580.8L701.4 579.4L702.0 577.9L702.5 580.9L703.1 583.6L703.7 581.2L704.2 579.2L704.8 579.2L705.4 579.4L705.9 581.5L706.5 582.7L707.0 581.3L707.6 583.1L708.2 585.2L708.7 585.2L709.3 580.8L709.9 579.6L710.4 582.6L711.0 584.1L711.6 583.7L712.1 584.9L712.7 582.9L713.2 583.9L713.8 585.7L714.4 583.6L714.9 585.2L715.5 584.9L716.1 585.1L716.6 585.6L717.2 585.0L717.8 586.1L718.3 588.2L718.9 589.6L719.5 589.0L720.0 588.2L720.6 586.9L721.1 586.2L721.7 585.3L722.3 585.5L722.8 586.8L723.4 587.3L724.0 589.4L724.5 587.9L725.1 586.4L725.7 586.0L726.2 586.8L726.8 587.4L727.3 586.4L727.9 587.3L728.5 587.0L729.0 587.2L729.6 587.9L730.2 587.0L730.7 589.1L731.3 589.9L731.9 591.0L732.4 591.7L733.0 589.0L733.5 587.7L734.1 589.5L734.7 589.8L735.2 589.2L735.8 589.6L736.4 589.4L736.9 592.6L737.5 593.4L738.1 592.4L738.6 590.9L739.2 592.0L739.8 593.9L740.3 594.3L740.9 594.9L741.4 595.6L742.0 593.0L742.6 594.7L743.1 594.8L743.7 592.2L744.3 592.4L744.8 593.7L745.4 595.6L746.0 595.1L746.5 593.3L747.1 593.8L747.6 593.2L748.2 594.5L748.8 594.6L749.3 595.5L749.9 595.2L750.5 593.9L751.0 596.9L751.6 596.5L752.2 596.0L752.7 596.8L753.3 596.8L753.8 595.5L754.4 593.3L755.0 594.1L755.5 594.7L756.1 597.2L756.7 593.7L757.2 594.4L757.8 594.8L758.4 596.2L758.9 595.4L759.5 596.2L760.1 594.9L760.6 593.7L761.2 593.6L761.7 593.2L762.3 594.3L762.9 591.7L763.4 593.2L764.0 595.3L764.6 594.1L765.1 594.2L765.7 594.6L766.3 593.8L766.8 592.6L767.4 593.9L767.9 593.0L768.5 590.6L769.1 590.4L769.6 591.3L770.2 591.3L770.8 591.6L771.3 591.5L771.9 590.4L772.5 591.0L773.0 594.1L773.6 592.4L774.1 592.7L774.7 590.8L775.3 591.5L775.8 590.7L776.4 587.7L777.0 590.5L777.5 591.8L778.1 592.6L778.7 594.2L779.2 594.2L779.8 591.3L780.4 591.2L780.9 592.7L781.5 592.8L782.0 590.0L782.6 590.5L783.2 590.2L783.7 589.1L784.3 587.2L784.9 585.5L785.4 586.1L786.0 587.8L786.6 588.6L787.1 587.1L787.7 587.0L788.2 589.4L788.8 589.6L789.4 590.1L789.9 590.8L790.5 591.9L791.1 593.7L791.6 593.6L792.2 595.0L792.8 592.1L793.3 591.4L793.9 593.3L794.4 590.7L795.0 590.1L795.6 593.4L796.1 589.9L796.7 589.6L797.3 587.8L797.8 591.5L798.4 590.9L799.0 591.0L799.5 591.3L800.1 591.7L800.7 590.8L801.2 593.7L801.8 594.9L802.3 595.7L802.9 595.0L803.5 594.9L804.0 593.7L804.6 593.4L805.2 593.6L805.7 594.4L806.3 594.4L806.9 592.5L807.4 591.8L808.0 592.3L808.5 592.9L809.1 590.8L809.7 592.5L810.2 591.5L810.8 590.4L811.4 591.7L811.9 590.7L812.5 592.7L813.1 590.8L813.6 590.9L814.2 593.2L814.7 591.2L815.3 592.3L815.9 589.8L816.4 591.1L817.0 591.0L817.6 590.2L818.1 590.5L818.7 589.8L819.3 590.5L819.8 589.1L820.4 589.2L821.0 588.9L821.5 592.5L822.1 588.9L822.6 588.6L823.2 590.7L823.8 589.0L824.3 587.6L824.9 586.1L825.5 588.0L826.0 585.3L826.6 586.2L827.2 583.1L827.7 584.8L828.3 584.4L828.8 585.4L829.4 586.7L830.0 584.2L830.5 583.2L831.1 581.8L831.7 581.9L832.2 583.7L832.8 585.7L833.4 585.2L833.9 584.9L834.5 584.8L835.0 582.8L835.6 582.1L836.2 582.4L836.7 581.8L837.3 581.8L837.9 581.2L838.4 580.1L839.0 579.2L839.6 580.8L840.1 582.5L840.7 579.3L841.3 579.5L841.8 578.2L842.4 581.0L842.9 580.5L843.5 579.7L844.1 581.1L844.6 580.5L845.2 578.5L845.8 577.0L846.3 575.6L846.9 578.0L847.5 579.7L848.0 577.8L848.6 576.3L849.1 576.5L849.7 578.4L850.3 576.4L850.8 575.2L851.4 574.8L852.0 575.8L852.5 575.0L853.1 573.8L853.7 574.8L854.2 576.7L854.8 574.6L855.3 573.2L855.9 573.0L856.5 571.6L857.0 572.6L857.6 572.3L858.2 572.2L858.7 570.8L859.3 568.7L859.9 569.9L860.4 567.3L861.0 566.7L861.6 567.2L862.1 567.5L862.7 566.0L863.2 567.6L863.8 568.1L864.4 569.4L864.9 567.9L865.5 566.2L866.1 566.5L866.6 566.8L867.2 567.7L867.8 567.7L868.3 569.7L868.9 567.4L869.4 568.3L870.0 569.5L870.6 569.7L871.1 569.8L871.7 567.7L872.3 566.5L872.8 569.1L873.4 567.3L874.0 566.5L874.5 568.1L875.1 569.9L875.6 569.7L876.2 569.3L876.8 567.8L877.3 567.9L877.9 570.0L878.5 568.0L879.0 569.2L879.6 566.5L880.2 568.0L880.7 567.9L881.3 567.9L881.9 567.5L882.4 564.8L883.0 564.3L883.5 564.4L884.1 564.9L884.7 567.6L885.2 567.5L885.8 567.5L886.4 568.1L886.9 566.5L887.5 567.5L888.1 567.9L888.6 568.6L889.2 570.2L889.7 567.6L890.3 565.5L890.9 566.1L891.4 567.9L892.0 571.0L892.6 568.7L893.1 566.4L893.7 566.5L894.3 565.8L894.8 564.9L895.4 564.6L895.9 566.3L896.5 564.9L897.1 564.4L897.6 566.9L898.2 566.4L898.8 567.3L899.3 566.0L899.9 564.5L900.5 565.8L901.0 567.6L901.6 564.0L902.2 563.4L902.7 561.7L903.3 564.4L903.8 562.5L904.4 560.2L905.0 559.2L905.5 561.5L906.1 561.9L906.7 562.5L907.2 561.2L907.8 560.4L908.4 561.2L908.9 563.3L909.5 561.4L910.0 562.0L910.6 560.7L911.2 560.5L911.7 558.5L912.3 558.2L912.9 559.9L913.4 559.6L914.0 557.5L914.6 559.4L915.1 558.9L915.7 557.5L916.2 556.7L916.8 557.2L917.4 559.7L917.9 560.6L918.5 559.0L919.1 558.0L919.6 554.6L920.2 557.4L920.8 556.0L921.3 555.7L921.9 558.7L922.5 558.8L923.0 557.5L923.6 557.6L924.1 557.1L924.7 556.0L925.3 557.2L925.8 556.1L926.4 557.1L927.0 557.5L927.5 556.3L928.1 557.2L928.7 556.5L929.2 554.6L929.8 555.7L930.3 556.5L930.9 555.8L931.5 556.9L932.0 555.6L932.6 558.0" stroke="#a0a0a0" stroke-width="1.15"/>
</g>
<path class="k" d="M120.5 45.5H932.5V230.5H120.5ZM120.5 230.5H932.5V414.5H120.5ZM120.5 414.5H932.5V599.5H120.5Z"/>
<text y="19"><tspan x="318.8" textLength="56.4" lengthAdjust="spacingAndGlyphs">Science</tspan> <tspan x="379.8" textLength="50.9" lengthAdjust="spacingAndGlyphs">Center</tspan> <tspan x="435.6" textLength="8.2" lengthAdjust="spacingAndGlyphs">L</tspan> <tspan x="446.8" textLength="38.9" lengthAdjust="spacingAndGlyphs">Wing</tspan> <tspan x="489.8" textLength="97.2" lengthAdjust="spacingAndGlyphs">environment</tspan> <tspan x="591.3" textLength="45.6" lengthAdjust="spacingAndGlyphs">status</tspan> <tspan x="641.8" textLength="92.7" lengthAdjust="spacingAndGlyphs">(2025-05-12)</tspan></text>
<text x="111.3" y="51.2" text-anchor="end" textLength="40.8" lengthAdjust="spacingAndGlyphs">80.00</text>
<text x="111.3" y="71.7" text-anchor="end" textLength="40.8" lengthAdjust="spacingAndGlyphs">79.00</text>
<text x="111.3" y="92.2" text-anchor="end" textLength="40.8" lengthAdjust="spacingAndGlyphs">78.00</text>
<text x="111.3" y="112.7" text-anchor="end" textLength="40.8" lengthAdjust="spacingAndGlyphs">77.00</text>
<text x="111.3" y="133.2" text-anchor="end" textLength="40.8" lengthAdjust="spacingAndGlyphs">76.00</text>
<text x="111.3" y="153.7" text-anchor="end" textLength="40.8" lengthAdjust="spacingAndGlyphs">75.00</text>
<text x="111.3" y="174.3" text-anchor="end" textLength="40.8" lengthAdjust="spacingAndGlyphs">74.00</text>
<text x="111.3" y="194.8" text-anchor="end" textLength="40.8" lengthAdjust="spacingAndGlyphs">73.00</text>
<text x="111.3" y="215.3" text-anchor="end" textLength="40.8" lengthAdjust="spacingAndGlyphs">72.00</text>
<text x="111.3" y="235.8" text-anchor="end" textLength="40.8" lengthAdjust="spacingAndGlyphs">71.00</text>
<text x="111.3" y="235.8" text-anchor="end" textLength="49.9" lengthAdjust="spacingAndGlyphs">100.00</text>
<text x="111.3" y="256.3" text-anchor="end" textLength="40.8" lengthAdjust="spacingAndGlyphs">90.00</text>
<text x="111.3" y="276.9" text-anchor="end" textLength="40.8" lengthAdjust="spacingAndGlyphs">80.00</text>
<text x="111.3" y="297.4" text-anchor="end" textLength="40.8" lengthAdjust="spacingAndGlyphs">70.00</text>
<text x="111.3" y="317.9" text-anchor="end" textLength="40.8" lengthAdjust="spacingAndGlyphs">60.00</text>
<text x="111.3" y="338.4" text-anchor="end" textLength="40.8" lengthAdjust="spacingAndGlyphs">50.00</text>
<text x="111.3" y="358.9" text-anchor="end" textLength="40.8" lengthAdjust="spacingAndGlyphs">40.00</text>
<text x="111.3" y="379.5" text-anchor="end" textLength="40.8" lengthAdjust="spacingAndGlyphs">30.00</text>
<text x="111.3" y="400.0" text-anchor="end" textLength="40.8" lengthAdjust="spacingAndGlyphs">20.00</text>
<text x="111.3" y="420.5" text-anchor="end" textLength="40.8" lengthAdjust="spacingAndGlyphs">10.00</text>
<text x="111.3" y="420.5" text-anchor="end" textLength="40.8" lengthAdjust="spacingAndGlyphs">30.25</text>
<text x="111.3" y="451.3" text-anchor="end" textLength="40.8" lengthAdjust="spacingAndGlyphs">30.20</text>
<text x="111.3" y="482.0" text-anchor="end" textLength="40.8" lengthAdjust="spacingAndGlyphs">30.15</text>
<text x="111.3" y="512.8" text-anchor="end" textLength="40.8" lengthAdjust="spacingAndGlyphs">30.10</text>
<text x="111.3" y="543.6" text-anchor="end" textLength="40.8" lengthAdjust="spacingAndGlyphs">30.05</text>
<text x="111.3" y="574.4" text-anchor="end" textLength="40.8" lengthAdjust="spacingAndGlyphs">30.00</text>
<text x="111.3" y="605.2" text-anchor="end" textLength="40.8" lengthAdjust="spacingAndGlyphs">29.95</text>
<text x="120.6" y="627.3" text-anchor="middle" textLength="18.6" lengthAdjust="spacingAndGlyphs">00</text>
<text x="154.4" y="627.3" text-anchor="middle" textLength="18.6" lengthAdjust="spacingAndGlyphs">01</text>
<text x="188.3" y="627.3" text-anchor="middle" textLength="18.6" lengthAdjust="spacingAndGlyphs">02</text>
<text x="222.1" y="627.3" text-anchor="middle" textLength="18.6" lengthAdjust="spacingAndGlyphs">03</text>
<text x="255.9" y="627.3" text-anchor="middle" textLength="18.6" lengthAdjust="spacingAndGlyphs">04</text>
<text x="289.8" y="627.3" text-anchor="middle" textLength="18.6" lengthAdjust="spacingAndGlyphs">05</text>
<text x="323.6" y="627.3" text-anchor="middle" textLength="18.6" lengthAdjust="spacingAndGlyphs">06</text>
<text x="357.4" y="627.3" text-anchor="middle" textLength="18.6" lengthAdjust="spacingAndGlyphs">07</text>
<text x="391.3" y="627.3" text-anchor="middle" textLength="18.6" lengthAdjust="spacingAndGlyphs">08</text>
<text x="425.1" y="627.3" text-anchor="middle" textLength="18.6" lengthAdjust="spacingAndGlyphs">09</text>
<text x="458.9" y="627.3" text-anchor="middle" textLength="18.6" lengthAdjust="spacingAndGlyphs">10</text>
<text x="492.8" y="627.3" text-anchor="middle" textLength="18.6" lengthAdjust="spacingAndGlyphs">11</text>
<text x="526.6" y="627.3" text-anchor="middle" textLength="18.6" lengthAdjust="spacingAndGlyphs">12</text>
<text x="560.4" y="627.3" text-anchor="middle" textLength="18.6" lengthAdjust="spacingAndGlyphs">13</text>
<text x="594.3" y="627.3" text-anchor="middle" textLength="18.6" lengthAdjust="spacingAndGlyphs">14</text>
<text x="628.1" y="627.3" text-anchor="middle" textLength="18.6" lengthAdjust="spacingAndGlyphs">15</text>
<text x="661.9" y="627.3" text-anchor="middle" textLength="18.6" lengthAdjust="spacingAndGlyphs">16</text>
<text x="695.8" y="627.3" text-anchor="middle" textLength="18.6" lengthAdjust="spacingAndGlyphs">17</text>
<text x="729.6" y="627.3" text-anchor="middle" textLength="18.6" lengthAdjust="spacingAndGlyphs">18</text>
<text x="763.4" y="627.3" text-anchor="middle" textLength="18.6" lengthAdjust="spacingAndGlyphs">19</text>
<text x="797.3" y="627.3" text-anchor="middle" textLength="18.6" lengthAdjust="spacingAndGlyphs">20</text>
<text x="831.1" y="627.3" text-anchor="middle" textLength="18.6" lengthAdjust="spacingAndGlyphs">21</text>
<text x="864.9" y="627.3" text-anchor="middle" textLength="18.6" lengthAdjust="spacingAndGlyphs">22</text>
<text x="898.8" y="627.3" text-anchor="middle" textLength="18.6" lengthAdjust="spacingAndGlyphs">23</text>
<text x="932.6" y="627.3" text-anchor="middle" textLength="18.6" lengthAdjust="spacingAndGlyphs">00</text>
<text y="659.7"><tspan x="494.0" textLength="33.0" lengthAdjust="spacingAndGlyphs">time</tspan> <tspan x="532.0" textLength="26.9" lengthAdjust="spacingAndGlyphs">(hr)</tspan></text>
<text transform="translate(35.8 0) rotate(-90)"><tspan x="-185.6" textLength="95.9" lengthAdjust="spacingAndGlyphs">temperature</tspan></text>
<text transform="translate(56.8 0) rotate(-90)"><tspan x="-163.9" textLength="34.5" lengthAdjust="spacingAndGlyphs">(deg</tspan> <tspan x="-124.8" textLength="12.9" lengthAdjust="spacingAndGlyphs">F)</tspan></text>
<text transform="translate(35.8 0) rotate(-90)"><tspan x="-383.9" textLength="54.1" lengthAdjust="spacingAndGlyphs">relative</tspan> <tspan x="-325.8" textLength="67.2" lengthAdjust="spacingAndGlyphs">humidity</tspan></text>
<text transform="translate(56.8 0) rotate(-90)"><tspan x="-339.4" textLength="33.7" lengthAdjust="spacingAndGlyphs">(pct)</tspan></text>
<text transform="translate(35.8 0) rotate(-90)"><tspan x="-583.1" textLength="82.2" lengthAdjust="spacingAndGlyphs">barometric</tspan> <tspan x="-495.6" textLength="65.7" lengthAdjust="spacingAndGlyphs">pressure</tspan></text>
<text transform="translate(56.8 0) rotate(-90)"><tspan x="-531.9" textLength="17.4" lengthAdjust="spacingAndGlyphs">(in</tspan> <tspan x="-508.5" textLength="26.2" lengthAdjust="spacingAndGlyphs">Hg)</tspan></text>
<text x="262.0" y="683.9" text-anchor="end" textLength="61.0" lengthAdjust="spacingAndGlyphs">enviro-1</text>
<path d="M270.5 678.5h45" stroke="#9400d3" stroke-width="2.2" fill="none"/>
<text x="262.0" y="705.4" text-anchor="end" textLength="61.0" lengthAdjust="spacingAndGlyphs">enviro-2</text>
<path d="M270.5 699.7h45" stroke="#009e73" stroke-width="2.2" fill="none"/>
<text x="397.0" y="683.9" text-anchor="end" textLength="61.0" lengthAdjust="spacingAndGlyphs">enviro-3</text>
<path d="M405.5 678.5h45" stroke="#56b4e9" stroke-width="2.2" fill="none"/>
<text x="397.0" y="705.4" text-anchor="end" textLength="61.0" lengthAdjust="spacingAndGlyphs">enviro-4</text>
<path d="M405.5 699.7h45" stroke="#e69f00" stroke-width="2.2" fill="none"/>
<text x="532.0" y="683.9" text-anchor="end" textLength="61.0" lengthAdjust="spacingAndGlyphs">enviro-5</text>
<path d="M540.5 678.5h45" stroke="#f0e442" stroke-width="2.2" fill="none"/>
<text x="532.0" y="705.4" text-anchor="end" textLength="61.0" lengthAdjust="spacingAndGlyphs">enviro-6</text>
<path d="M540.5 699.7h45" stroke="#0072b2" stroke-width="2.2" fill="none"/>
<text x="667.0" y="683.9" text-anchor="end" textLength="61.0" lengthAdjust="spacingAndGlyphs">enviro-7</text>
<path d="M675.5 678.5h45" stroke="#e51e10" stroke-width="2.2" fill="none"/>
<text x="667.0" y="705.4" text-anchor="end" textLength="61.0" lengthAdjust="spacingAndGlyphs">enviro-8</text>
<path d="M675.5 699.7h45" stroke="#000000" stroke-width="2.2" fill="none"/>
<text x="801.1" y="683.9" text-anchor="end" textLength="50.6" lengthAdjust="spacingAndGlyphs">indoor</text>
<path d="M809.6 678.5h45" stroke="#a0a0a0" stroke-width="1" fill="none"/>
</svg></body></html>
